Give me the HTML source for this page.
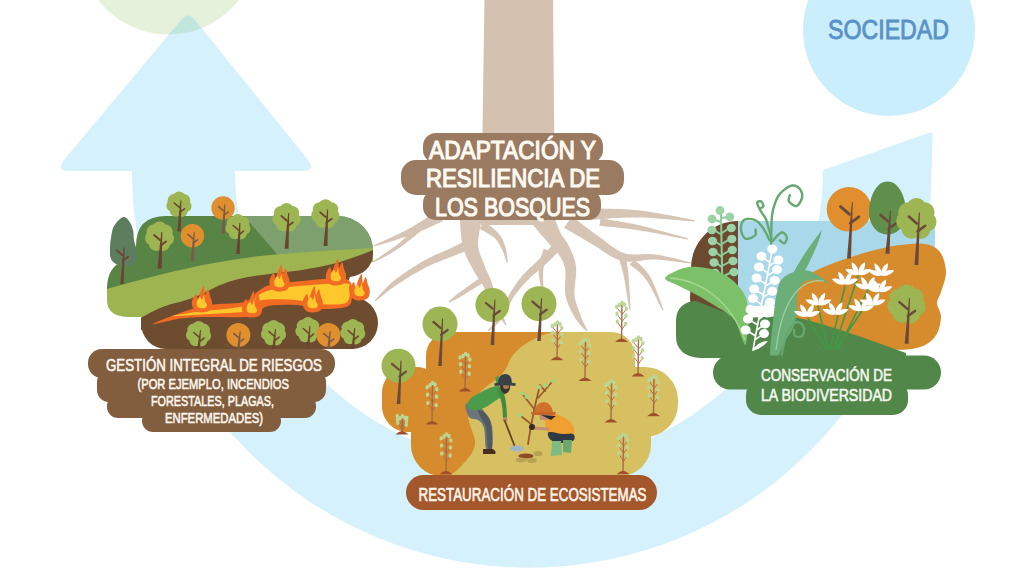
<!DOCTYPE html>
<html><head><meta charset="utf-8">
<style>
html,body{margin:0;padding:0;background:#fff;}
body{width:1024px;height:579px;overflow:hidden;}
svg{display:block;}
text{font-family:"Liberation Sans",sans-serif;font-weight:normal;}
</style></head>
<body>
<svg width="1024" height="579" viewBox="0 0 1024 579">
<defs>
<clipPath id="gc"><circle cx="168.5" cy="-54.5" r="89"/></clipPath>
<clipPath id="ringclip"><path d="M0,171 L530,171 L530,275 L1024,99 L1024,579 L0,579Z"/></clipPath>
<g id="arrowshape">
<path d="M181,20 Q188,11 195,20 L308,160 Q316,171 303,171 L69,171 Q56,171 64,160Z"/>
<path clip-path="url(#ringclip)" fill-rule="evenodd" d="M132,170.5 A397,397 0 1,0 926,170.5 A397,397 0 1,0 132,170.5Z M235,170.5 A294,294 0 1,0 823,170.5 A294,294 0 1,0 235,170.5Z"/>
<path d="M823.5,170 L932.6,131.8 L930.5,204 L927,260 L900,300 L800,300 L819.4,222 L823,190Z"/>
</g>
</defs>
<rect width="1024" height="579" fill="#fff"/>
<circle cx="168.5" cy="-54.5" r="89" fill="#e5f1da"/>
<use href="#arrowshape" fill="#d4f1fc"/>
<g clip-path="url(#gc)"><use href="#arrowshape" fill="#c1e6dd"/></g>
<circle cx="889" cy="30" r="86" fill="#caeefb"/>
<text x="828" y="39" font-size="28" fill="#5a92c8" stroke="#5a92c8" stroke-width="0.9" textLength="121" lengthAdjust="spacingAndGlyphs">SOCIEDAD</text>

<path d="M484.5,-2 L553,-2 L555,225 L481,225Z" fill="#d5c1b0"/>
<g><path d="M437.1,210.7 L435.9,211.7 L434.2,212.8 L432.3,214.1 L430.1,215.6 L427.7,217.1 L425.3,218.7 L422.8,220.3 L420.4,221.8 L418.2,223.2 L416.2,224.4 L414.4,225.5 L412.7,226.5 L411.1,227.4 L409.5,228.3 L407.9,229.1 L406.4,230 L404.7,230.9 L403,231.7 L401.1,232.7 L399.1,233.7 L396.8,234.8 L394.1,236.1 L391.3,237.4 L388.3,238.7 L385.3,240.1 L382.5,241.4 L379.8,242.6 L377.3,243.8 L375.3,244.7 L373.8,245.5 L374.2,246.5 L375.8,246.1 L378,245.4 L380.5,244.7 L383.4,243.8 L386.4,242.9 L389.5,241.9 L392.7,240.9 L395.7,240 L398.5,239.1 L400.9,238.3 L403.1,237.6 L405.1,236.9 L407,236.3 L408.8,235.7 L410.6,235.1 L412.3,234.5 L414.1,233.9 L415.9,233.2 L417.8,232.4 L419.8,231.6 L422.1,230.6 L424.6,229.5 L427.2,228.4 L429.9,227.1 L432.5,225.9 L435.1,224.7 L437.5,223.6 L439.7,222.6 L441.5,221.8 L442.9,221.3Z" fill="#d6c4b5"/><path d="M418,225.7 L416.9,226.9 L415.4,228.3 L413.5,230 L411.5,231.9 L409.3,234 L407,236.1 L404.8,238.1 L402.6,240.1 L400.6,241.9 L398.8,243.4 L397.1,244.7 L395.5,245.9 L394,247.1 L392.5,248.1 L391.1,249.2 L389.6,250.1 L388.3,251 L386.9,251.9 L385.5,252.8 L384.2,253.7 L382.9,254.7 L381.5,255.6 L380.2,256.5 L378.9,257.4 L377.6,258.3 L376.3,259.1 L375.2,259.8 L374.2,260.5 L373.4,261.1 L372.8,261.6 L373.2,262.4 L374,262.1 L374.9,261.7 L376,261.2 L377.2,260.6 L378.6,260 L380,259.3 L381.4,258.6 L382.9,257.8 L384.4,257 L385.8,256.3 L387.2,255.5 L388.6,254.7 L390,253.8 L391.5,253 L392.9,252.1 L394.5,251.1 L396.1,250.1 L397.7,249 L399.4,247.9 L401.2,246.6 L403.2,245.1 L405.4,243.5 L407.7,241.6 L410.2,239.7 L412.6,237.8 L414.9,235.9 L417.1,234.1 L419,232.5 L420.7,231.2 L422,230.3Z" fill="#d6c4b5"/><path d="M459,213.5 L459.4,215.3 L459.7,217.6 L459.9,220.6 L460.2,223.9 L460.4,227.6 L460.7,231.4 L461.1,235.2 L461.5,239 L462.2,242.7 L463,246.1 L463.7,249.2 L464.6,252.1 L465.6,254.9 L466.7,257.5 L467.9,260 L469.1,262.3 L470.3,264.5 L471.4,266.6 L472.5,268.5 L473.5,270.5 L474.6,272.5 L475.8,274.5 L477,276.3 L478.1,278 L479.2,279.6 L480.3,281.2 L481.3,282.7 L482.2,284.1 L483,285.6 L483.8,287.1 L484.4,288.8 L485,290.7 L485.6,292.8 L486.1,294.9 L486.6,297.1 L487.1,299.2 L487.5,301.2 L487.9,302.9 L488.2,304.5 L488.6,305.6 L495.4,304.4 L495.3,303.2 L495.2,301.7 L495,299.9 L494.8,297.9 L494.5,295.7 L494.2,293.4 L493.8,291 L493.4,288.6 L492.8,286.3 L492.2,284.1 L491.6,282 L490.8,280 L490,278 L489.2,276.2 L488.3,274.4 L487.5,272.6 L486.7,270.9 L485.9,269.2 L485.2,267.4 L484.5,265.5 L483.7,263.4 L482.8,261.2 L481.9,259 L481.1,256.8 L480.3,254.7 L479.6,252.5 L479,250.4 L478.5,248.3 L478.1,246.1 L477.8,243.9 L478,241.5 L478.3,238.6 L478.8,235.4 L479.3,232 L479.9,228.5 L480.5,225.2 L481.2,222 L481.8,219.1 L482.5,216.5 L483,214.5Z" fill="#d6c4b5"/><path d="M466,240.4 L465,241 L463.7,241.7 L462.2,242.4 L460.6,243.3 L458.7,244.2 L456.8,245.2 L454.7,246.2 L452.6,247.2 L450.5,248.3 L448.4,249.3 L446.3,250.3 L444.1,251.3 L441.7,252.3 L439.3,253.3 L436.8,254.3 L434.2,255.5 L431.6,256.7 L428.9,258 L426.1,259.4 L423.3,260.9 L420.5,262.6 L417.5,264.5 L414.4,266.4 L411.3,268.4 L408.1,270.5 L404.9,272.7 L401.9,274.8 L398.9,276.9 L396.1,279 L393.5,281 L391.1,283.1 L388.7,285.3 L386.4,287.6 L384.2,289.9 L382.1,292.1 L380.2,294.2 L378.4,296.2 L376.9,297.9 L375.7,299.4 L374.7,300.6 L375.3,301.4 L376.6,300.4 L378.2,299.2 L380,297.7 L382,296.1 L384.2,294.3 L386.5,292.4 L388.9,290.5 L391.4,288.6 L393.9,286.7 L396.5,285 L399.1,283.2 L402,281.4 L405,279.5 L408.1,277.5 L411.3,275.6 L414.5,273.7 L417.7,271.9 L420.8,270.2 L423.8,268.5 L426.7,267.1 L429.3,265.7 L432,264.5 L434.6,263.3 L437.1,262.3 L439.7,261.3 L442.2,260.3 L444.6,259.4 L447,258.5 L449.3,257.6 L451.6,256.7 L453.8,255.8 L456,254.9 L458.2,254.1 L460.4,253.2 L462.4,252.4 L464.3,251.7 L466.1,251 L467.6,250.4 L469,249.9 L470,249.6Z" fill="#d6c4b5"/><path d="M480.3,277.5 L479.6,278 L478.8,278.7 L477.7,279.4 L476.5,280.3 L475.2,281.2 L473.9,282.2 L472.5,283.1 L471.1,284.1 L469.8,285 L468.6,285.9 L467.4,286.8 L466.2,287.6 L465,288.5 L463.8,289.4 L462.6,290.3 L461.4,291.1 L460.2,292 L459,292.8 L457.9,293.6 L456.9,294.3 L455.9,295.2 L454.9,296 L453.9,296.8 L453,297.7 L452.1,298.5 L451.2,299.2 L450.4,299.9 L449.7,300.6 L449.2,301.1 L448.7,301.6 L449.3,302.4 L449.9,302.2 L450.6,301.9 L451.5,301.5 L452.4,301 L453.4,300.5 L454.5,300 L455.7,299.4 L456.8,298.8 L458,298.2 L459.1,297.7 L460.2,297 L461.4,296.3 L462.6,295.5 L463.8,294.8 L465.1,294 L466.3,293.2 L467.6,292.4 L468.9,291.6 L470.1,290.8 L471.4,290.1 L472.7,289.3 L474,288.4 L475.4,287.6 L476.9,286.7 L478.3,285.8 L479.6,285 L480.9,284.2 L482,283.5 L482.9,282.9 L483.7,282.5Z" fill="#d6c4b5"/><path d="M485.7,301.9 L486.5,302.7 L487.6,303.9 L488.8,305.3 L490.2,306.8 L491.7,308.5 L493.2,310.1 L494.7,311.8 L496.1,313.4 L497.3,314.9 L498.4,316.2 L499.3,317.3 L500.2,318.4 L501.1,319.5 L501.9,320.5 L502.7,321.6 L503.4,322.5 L504,323.3 L504.6,324.1 L505.1,324.7 L505.6,325.2 L506.4,324.8 L506.2,324.1 L506,323.3 L505.7,322.4 L505.3,321.4 L504.8,320.3 L504.3,319.1 L503.8,317.9 L503.1,316.6 L502.4,315.2 L501.6,313.8 L500.7,312.4 L499.5,310.7 L498.3,309 L496.9,307.1 L495.6,305.3 L494.2,303.5 L493,301.8 L491.9,300.3 L491,299.1 L490.3,298.1Z" fill="#d6c4b5"/><path d="M479.4,228.7 L480.5,229.2 L481.8,230 L483.4,230.8 L485,231.8 L486.8,232.8 L488.6,233.9 L490.4,235 L492,236.1 L493.4,237.1 L494.6,238.1 L495.6,239 L496.5,240 L497.3,241.1 L498.1,242.2 L498.8,243.3 L499.4,244.5 L500.1,245.7 L500.7,246.9 L501.3,248.1 L501.9,249.4 L502.6,250.7 L503.1,252.1 L503.7,253.6 L504.3,255.2 L504.8,256.8 L505.2,258.3 L505.7,259.7 L506.1,260.9 L506.5,262 L506.8,262.8 L507.8,262.6 L507.7,261.7 L507.7,260.6 L507.5,259.3 L507.4,257.8 L507.2,256.2 L507,254.6 L506.7,252.9 L506.4,251.2 L506.1,249.5 L505.7,248 L505.2,246.6 L504.8,245.2 L504.3,243.8 L503.8,242.4 L503.2,241 L502.6,239.6 L501.9,238.2 L501,236.8 L500.1,235.4 L499,233.9 L497.7,232.5 L496.2,231 L494.6,229.5 L492.8,228 L491.1,226.6 L489.4,225.3 L487.8,224.1 L486.5,223 L485.4,222.1 L484.6,221.3Z" fill="#d6c4b5"/><path d="M528.8,220.5 L530,221.6 L531.4,223.1 L533,225 L534.8,227.1 L536.8,229.4 L538.7,231.8 L540.7,234.2 L542.7,236.4 L544.5,238.5 L546.3,240.4 L547.8,242.3 L549.3,244 L550.6,245.5 L552,246.8 L553.2,248 L554.3,249 L555.3,250 L556.2,251 L557.1,252 L558,253.2 L558.9,254.7 L559.8,256.2 L560.7,257.6 L561.5,259.1 L562.3,260.6 L563,262 L563.7,263.6 L564.2,265.2 L564.7,266.9 L565.1,268.7 L565.4,270.6 L565.5,272.8 L565.5,275.3 L565.4,278 L565.3,280.8 L565.1,283.7 L565,286.7 L565,289.7 L565.2,292.7 L565.5,295.6 L566.2,298.3 L567,300.9 L567.9,303.5 L568.9,305.9 L569.9,308.2 L571,310.4 L572.1,312.6 L573.2,314.6 L574.3,316.5 L575.3,318.3 L576.5,320.1 L577.7,321.8 L579,323.4 L580.3,325 L581.6,326.4 L582.8,327.7 L583.9,328.8 L584.9,329.8 L585.8,330.6 L586.6,331.3 L587.4,330.7 L587.1,329.8 L586.6,328.6 L585.9,327.3 L585.2,325.9 L584.4,324.4 L583.6,322.7 L582.8,321 L582,319.3 L581.3,317.5 L580.7,315.7 L580,313.8 L579.2,311.8 L578.4,309.7 L577.6,307.6 L576.9,305.4 L576.2,303.2 L575.6,301 L575.1,298.8 L574.7,296.5 L574.5,294.4 L574.3,292.2 L574.4,289.8 L574.6,287.2 L574.9,284.5 L575.2,281.7 L575.6,278.8 L575.9,275.9 L576.1,273 L576.2,270.1 L576.1,267.3 L575.7,264.7 L575.3,262.3 L574.7,260 L574,257.9 L573.3,255.8 L572.5,253.9 L571.7,252 L570.9,250.2 L570.1,248.5 L569.2,246.8 L568.3,244.9 L567.3,243.1 L566.2,241.5 L565.2,240 L564.2,238.5 L563.2,237.2 L562.3,235.9 L561.4,234.5 L560.6,233.1 L559.7,231.6 L558.9,229.5 L558,227.1 L557,224.4 L556,221.7 L554.9,218.9 L553.9,216.1 L553,213.5 L552.2,211.1 L551.6,209.1 L551.2,207.5Z" fill="#d6c4b5"/><path d="M543.7,248.8 L543.4,249.8 L543,251.1 L542.5,252.7 L541.8,254.5 L541.1,256.5 L540.4,258.7 L539.8,260.9 L539.2,263.2 L538.8,265.5 L538.5,267.7 L538.5,270.1 L538.6,272.5 L538.9,275.1 L539.2,277.7 L539.6,280.3 L540.1,282.8 L540.5,285.1 L540.9,287.1 L541.2,288.8 L541.5,290.1 L543.5,289.9 L543.5,288.6 L543.5,286.8 L543.4,284.7 L543.2,282.4 L543.1,279.9 L543,277.4 L543,274.9 L543,272.5 L543.2,270.2 L543.5,268.3 L543.9,266.5 L544.4,264.5 L545.1,262.6 L545.9,260.6 L546.7,258.7 L547.5,256.9 L548.4,255.2 L549.1,253.7 L549.8,252.3 L550.3,251.2Z" fill="#d6c4b5"/><path d="M552.8,244.8 L551.9,245.8 L550.7,247.1 L549.3,248.6 L547.6,250.3 L545.9,252.1 L544.1,254 L542.3,255.9 L540.5,257.8 L538.8,259.5 L537.2,261.1 L535.8,262.6 L534.3,264 L532.8,265.4 L531.3,266.7 L529.8,268.1 L528.3,269.5 L526.8,271 L525.3,272.5 L523.9,274 L522.4,275.6 L521.1,277.3 L519.8,279 L518.5,280.6 L517.2,282.4 L515.9,284.1 L514.7,285.9 L513.5,287.7 L512.3,289.6 L511.1,291.6 L509.9,293.7 L508.6,295.9 L507.4,298.3 L506.2,300.7 L505.1,303.3 L503.9,305.8 L502.8,308.3 L501.6,310.7 L500.5,313 L499.4,315 L498.3,316.9 L497.3,318.7 L496.1,320.4 L494.9,322 L493.6,323.6 L492.4,325.1 L491.2,326.4 L490.1,327.7 L489.1,328.8 L488.3,329.8 L487.6,330.7 L488.4,331.3 L489.2,330.7 L490.2,330 L491.4,329.1 L492.7,328 L494.1,326.8 L495.6,325.5 L497.2,324.1 L498.7,322.5 L500.2,320.9 L501.7,319.1 L503,317.1 L504.2,314.9 L505.5,312.6 L506.7,310.2 L508,307.7 L509.2,305.2 L510.4,302.8 L511.7,300.5 L512.9,298.3 L514.1,296.3 L515.4,294.5 L516.7,292.7 L518,291 L519.4,289.4 L520.7,287.8 L522,286.2 L523.4,284.7 L524.8,283.3 L526.2,281.8 L527.6,280.4 L529,279 L530.4,277.6 L531.8,276.3 L533.3,275 L534.8,273.7 L536.3,272.5 L537.9,271.1 L539.5,269.8 L541.1,268.4 L542.8,266.9 L544.5,265.3 L546.3,263.6 L548.2,261.8 L550.1,259.9 L552,258.1 L553.8,256.4 L555.4,254.7 L556.9,253.3 L558.2,252.1 L559.2,251.2Z" fill="#d6c4b5"/><path d="M590.1,220 L593,219.7 L596.8,219.4 L601.3,219 L606.3,218.7 L611.6,218.3 L617.3,218 L623,217.7 L628.8,217.6 L634.4,217.5 L639.8,217.5 L645.3,217.6 L651.2,217.9 L657.5,218.4 L664,218.9 L670.3,219.5 L676.5,220.1 L682.2,220.6 L687.3,221 L691.6,221.3 L694.9,221.5 L695.1,220.5 L691.8,219.8 L687.6,218.8 L682.6,217.8 L677,216.7 L670.9,215.5 L664.6,214.4 L658.2,213.2 L651.9,212.2 L645.8,211.3 L640.2,210.5 L634.7,210 L629,209.6 L623.1,209.2 L617.2,209 L611.5,208.8 L606.1,208.7 L601,208.5 L596.6,208.4 L592.9,208.2 L589.9,208Z" fill="#d6c4b5"/><path d="M599.4,226 L601.8,226.1 L604.8,226.4 L608.3,226.7 L612.3,227.1 L616.6,227.5 L621.1,228 L625.7,228.6 L630.4,229.1 L635,229.8 L639.5,230.5 L644.2,231.2 L649.4,232.1 L654.9,233.1 L660.5,234.2 L666.2,235.3 L671.6,236.4 L676.6,237.4 L681.1,238.3 L684.9,239 L687.9,239.5 L688.1,238.5 L685.3,237.6 L681.6,236.5 L677.1,235.3 L672.2,233.9 L666.8,232.4 L661.3,230.9 L655.7,229.4 L650.3,228 L645.2,226.7 L640.5,225.5 L636,224.6 L631.3,223.6 L626.6,222.7 L622,221.9 L617.4,221.1 L613.2,220.4 L609.3,219.7 L605.8,219.1 L602.9,218.5 L600.6,218Z" fill="#d6c4b5"/><path d="M564.1,227.8 L565.8,228.7 L568,229.9 L570.5,231.4 L573.3,233.1 L576.4,234.9 L579.6,236.8 L582.9,238.8 L586.1,240.7 L589.3,242.5 L592.3,244.2 L595,245.9 L597.7,247.6 L600.4,249.5 L603.3,251.4 L606.1,253.3 L609.1,255.2 L612.1,256.9 L615.3,258.5 L618.5,259.8 L621.9,260.9 L625.4,261.5 L628.8,261.7 L632.2,261.6 L635.5,261.3 L638.8,260.9 L642,260.5 L645.2,260 L648.4,259.7 L651.6,259.5 L654.8,259.5 L658.3,259.7 L662.2,260 L666.3,260.4 L670.5,260.9 L674.7,261.5 L678.8,262 L682.5,262.5 L685.9,263 L688.7,263.3 L690.9,263.5 L691.1,262.5 L689,261.9 L686.2,261.2 L682.9,260.4 L679.2,259.5 L675.3,258.5 L671.1,257.6 L666.9,256.7 L662.8,255.8 L658.9,255.1 L655.2,254.5 L651.7,254.2 L648.2,254.1 L644.8,254.2 L641.4,254.3 L638.2,254.4 L635.1,254.5 L632.1,254.5 L629.3,254.3 L626.6,253.9 L624.1,253.1 L621.5,252.2 L619,250.9 L616.4,249.4 L613.8,247.8 L611.2,245.9 L608.6,243.9 L606,241.9 L603.3,239.8 L600.5,237.8 L597.7,235.8 L595,233.8 L592.1,231.7 L589.1,229.4 L586.1,227.2 L583.1,225 L580.3,222.8 L577.7,220.8 L575.4,219 L573.4,217.4 L571.9,216.2Z" fill="#d6c4b5"/><path d="M618.1,256.9 L618.5,257.9 L618.9,259.2 L619.5,260.6 L620,262.3 L620.6,264 L621.2,266 L621.8,268.1 L622.4,270.4 L623,272.8 L623.5,275.4 L624.1,278.3 L624.8,281.8 L625.4,285.6 L626.1,289.7 L626.8,293.8 L627.4,297.9 L628,301.7 L628.6,305.1 L629.1,307.9 L629.5,310.1 L630.5,309.9 L630.5,307.8 L630.4,304.9 L630.2,301.5 L630,297.6 L629.7,293.5 L629.5,289.3 L629.2,285.2 L628.9,281.3 L628.7,277.7 L628.5,274.6 L628.2,271.9 L627.9,269.4 L627.6,266.9 L627.2,264.7 L626.9,262.6 L626.6,260.7 L626.4,259 L626.1,257.5 L626,256.2 L625.9,255.1Z" fill="#d6c4b5"/><path d="M629.6,264.6 L630.7,265.4 L632.1,266.5 L633.6,267.6 L635.3,268.8 L637.1,270.2 L638.9,271.8 L640.8,273.5 L642.6,275.3 L644.3,277.2 L645.9,279.4 L647.6,281.8 L649.4,284.8 L651.3,288.3 L653.2,291.9 L655.1,295.6 L656.9,299.3 L658.6,302.7 L660.1,305.7 L661.5,308.3 L662.5,310.2 L663.5,309.8 L662.8,307.7 L661.8,305 L660.6,301.8 L659.3,298.2 L657.9,294.4 L656.3,290.5 L654.8,286.6 L653.2,282.9 L651.6,279.6 L650.1,276.6 L648.4,274.1 L646.6,271.8 L644.8,269.6 L642.9,267.6 L641.1,265.8 L639.3,264.1 L637.7,262.7 L636.3,261.4 L635.2,260.3 L634.4,259.4Z" fill="#d6c4b5"/></g>
<g fill="#9a7b61">
<rect x="423" y="133" width="180" height="30" rx="13"/>
<rect x="401" y="160" width="223" height="35" rx="15"/>
<rect x="423" y="190" width="178" height="30" rx="13"/>
</g>
<g fill="#fffaf2" stroke="#fffaf2" stroke-width="1.2">
<text x="429" y="159" font-size="26" textLength="167" lengthAdjust="spacingAndGlyphs">ADAPTACIÓN Y</text>
<text x="426" y="187" font-size="26" textLength="174" lengthAdjust="spacingAndGlyphs">RESILIENCIA DE</text>
<text x="435" y="215.5" font-size="26" textLength="155" lengthAdjust="spacingAndGlyphs">LOS BOSQUES</text>
</g>
<g><path d="M166,216 L338,216 A35,35 0 0 1 373,251 L373,258 L107,300 L107,287 Q108,266 124,261 L136,258 L136,246 Q136,216 166,216Z" fill="#588545"/><path d="M244,216 L338,216 A35,35 0 0 1 373,251 L373,262 L277,254Z" fill="#7ea06e"/><path d="M166,297 L352,297 A26,26 0 0 1 378,323 A26,26 0 0 1 352,349 L166,349 A25,26 0 0 1 141,323 A25,26 0 0 1 166,297Z" fill="#6d4c30"/><path d="M107,289 C150,277 200,263 260,256 C300,252 340,250 373,248 L373,262 L142,317 L127,317 Q107,316 107,300Z" fill="#9db451"/><path d="M141,318 C152,311 165,305 180,302 C195,298 208,291 219,285.5 C232,280 245,277 258,275.6 C275,273 285,272 297,270.7 C315,268 330,265 340,262 C352,258 364,254 373,250 L373,253 C373,266 364,275 350,277 L340,300 L141,330Z" fill="#6d4c30"/><path d="M152,324.5 L154,323.3 L159.1,321 L166,318.2 L173.4,315.4 L180,313 L185.6,311.1 L191.2,309.3 L196.9,307.7 L202.8,306.2 L209,305 L216,304.2 L223.8,303.8 L231.6,303.5 L238.7,303 L244.5,302 L248.6,300.3 L251.5,298 L253.6,295.6 L255.6,293.2 L258,291.2 L260.6,289.5 L263,288 L265.4,286.6 L268.3,285.4 L271.8,284.4 L276,283.6 L280.8,283 L285.9,282.5 L291.4,282 L297,281.5 L303.1,280.9 L309.8,280.2 L316.5,279.5 L322.9,279 L328.4,278.6 L333,278.4 L337,278.2 L340.5,278.2 L343.4,278.4 L346,279 L348,279.9 L349.5,281.1 L350.6,282.5 L351.4,284.2 L352,286 L352.5,288.1 L352.7,290.6 L352.7,293.2 L352.5,295.7 L352,298 L351.6,300.1 L351.2,302.2 L350.4,304 L348.8,305.7 L346,307 L341.5,307.9 L335.5,308.6 L328.8,309 L322.3,309.1 L316.7,309 L312.3,308.5 L308.6,307.6 L305.1,306.5 L301.4,305.6 L297,305 L291.5,304.8 L285.2,304.8 L278.7,304.9 L272.7,305.3 L268,306 L264.8,307.1 L262.8,308.5 L261.3,310.1 L259.9,311.7 L258,313 L255.9,314.1 L253.9,315 L251.7,315.8 L248.7,316.5 L244.5,317 L238.7,317.2 L231.6,317.2 L223.8,317.1 L216,317 L209,317 L202.8,317.1 L196.9,317.3 L191.2,317.5 L185.6,317.9 L180,318.5 L173.4,319.7 L166,321.4 L159.1,323.1 L154,324.3Z" fill="#f26b22"/><path d="M172,316 L173.8,315.5 L178.4,314.7 L184.9,313.7 L192.4,312.6 L200,311.5 L208.3,310.6 L217.9,309.7 L227.9,308.8 L237.1,307.6 L244.5,306 L249.6,303.8 L253,301 L255.6,298.1 L258.3,295.3 L262,293 L266.3,291.3 L270.8,290 L275.7,288.9 L281.7,287.9 L289,287 L299,286 L311.4,285 L324.3,284.1 L335.8,283.6 L344,283.4 L348.3,283.7 L349.8,284.3 L349.8,285.3 L349.1,286.5 L349,288 L349.4,289.9 L349.7,292.2 L349.7,294.7 L349.5,297.1 L349,299 L348.3,300.5 L347.6,301.7 L346.5,302.6 L344.7,303.4 L342,304 L338.1,304.4 L333,304.6 L327.4,304.5 L321.8,304.3 L316.7,304 L312.3,303.4 L308.3,302.5 L304.3,301.5 L300,300.6 L295,300 L288.7,299.6 L281.4,299.3 L273.9,299.2 L267.2,299.4 L262,300 L258.8,301.1 L257.1,302.7 L256.1,304.6 L255.3,306.4 L254,307.8 L252.8,308.9 L252,309.7 L250.9,310.5 L248.7,311.1 L244.5,311.8 L237.6,312.4 L228.4,313 L218.3,313.6 L208.4,314.1 L200,314.5 L192.4,315 L184.9,315.5 L178.4,315.9 L173.8,316.1Z" fill="#fdc82b"/><path d="M193,308 L192.4,306.5 L191.9,304.7 L191.8,302.8 L192,301 L192.7,299 L193.8,296.8 L195,294.9 L196,294 L196.6,294.7 L197.1,296.6 L197.5,298.4 L198,299 L198.7,297.8 L199.4,295.6 L200.2,293.1 L201,291 L201.8,289.2 L202.6,287.4 L203.4,286.2 L204,286 L204.3,287.6 L204.5,290.6 L204.7,293.5 L205,295 L205.6,294.2 L206.4,292.1 L207.3,289.9 L208,289 L208.6,289.9 L209.1,291.8 L209.5,294 L210,296 L210.6,297.5 L211.2,299 L211.7,300.5 L212,302 L212.1,303.8 L211.9,305.7 L211.6,307.5 L211,309 L210.1,310.1 L208.9,310.9 L207.6,311.6 L206,312 L204.1,312.3 L202,312.4 L199.9,312.4 L198,312 L196.4,311.4 L195.1,310.4 L193.9,309.3Z" fill="#f26b22"/><path d="M197,306 L196.7,304.9 L196.6,303.6 L196.7,302.2 L197,301 L197.6,299.8 L198.4,298.5 L199.2,297.5 L200,297 L200.6,297.4 L201.1,298.6 L201.5,299.6 L202,300 L202.5,299.1 L203.1,297.3 L203.6,295.7 L204,295 L204.3,295.8 L204.5,297.4 L204.7,299.4 L205,301 L205.5,302.2 L206.2,303.2 L206.8,304.1 L207,305 L206.9,305.9 L206.4,306.8 L205.8,307.5 L205,308 L203.9,308.3 L202.6,308.3 L201.2,308.2 L200,308 L199,307.7 L198.2,307.3 L197.5,306.8Z" fill="#fdc82b"/><path d="M270.6,287 L270,285.5 L269.5,283.7 L269.4,281.8 L269.6,280 L270.3,278 L271.4,275.8 L272.6,273.9 L273.6,273 L274.2,273.7 L274.7,275.6 L275.1,277.4 L275.6,278 L276.3,276.8 L277,274.6 L277.8,272.1 L278.6,270 L279.4,268.2 L280.2,266.4 L281,265.2 L281.6,265 L281.9,266.6 L282.1,269.6 L282.3,272.5 L282.6,274 L283.2,273.2 L284,271.1 L284.9,268.9 L285.6,268 L286.2,268.9 L286.7,270.8 L287.1,273 L287.6,275 L288.2,276.5 L288.8,278 L289.3,279.5 L289.6,281 L289.7,282.8 L289.5,284.7 L289.2,286.5 L288.6,288 L287.7,289.1 L286.5,289.9 L285.2,290.6 L283.6,291 L281.7,291.3 L279.6,291.4 L277.5,291.4 L275.6,291 L274,290.4 L272.7,289.4 L271.5,288.3Z" fill="#f26b22"/><path d="M274.6,285 L274.3,283.9 L274.2,282.6 L274.3,281.2 L274.6,280 L275.2,278.8 L276,277.5 L276.9,276.5 L277.6,276 L278.2,276.4 L278.7,277.6 L279.1,278.6 L279.6,279 L280.1,278.1 L280.7,276.3 L281.2,274.7 L281.6,274 L281.9,274.8 L282.1,276.4 L282.3,278.4 L282.6,280 L283.1,281.2 L283.8,282.2 L284.4,283.1 L284.6,284 L284.5,284.9 L284,285.8 L283.4,286.5 L282.6,287 L281.5,287.3 L280.2,287.3 L278.8,287.2 L277.6,287 L276.6,286.7 L275.8,286.3 L275.1,285.8Z" fill="#fdc82b"/><path d="M243,313 L242.4,311.5 L241.9,309.7 L241.8,307.8 L242,306 L242.7,304 L243.8,301.8 L245,299.9 L246,299 L246.6,299.7 L247.1,301.6 L247.5,303.4 L248,304 L248.7,302.8 L249.4,300.6 L250.2,298.1 L251,296 L251.8,294.2 L252.6,292.4 L253.4,291.2 L254,291 L254.3,292.6 L254.5,295.6 L254.7,298.5 L255,300 L255.6,299.2 L256.4,297.1 L257.3,294.9 L258,294 L258.6,294.9 L259.1,296.8 L259.5,299 L260,301 L260.6,302.5 L261.2,304 L261.7,305.5 L262,307 L262.1,308.8 L261.9,310.7 L261.6,312.5 L261,314 L260.1,315.1 L258.9,315.9 L257.6,316.6 L256,317 L254.1,317.3 L252,317.4 L249.9,317.4 L248,317 L246.4,316.4 L245.1,315.4 L243.9,314.3Z" fill="#f26b22"/><path d="M247,311 L246.7,309.9 L246.6,308.6 L246.7,307.2 L247,306 L247.6,304.8 L248.4,303.5 L249.2,302.5 L250,302 L250.6,302.4 L251.1,303.6 L251.5,304.6 L252,305 L252.5,304.1 L253.1,302.3 L253.6,300.7 L254,300 L254.3,300.8 L254.5,302.4 L254.7,304.4 L255,306 L255.5,307.2 L256.2,308.2 L256.8,309.1 L257,310 L256.9,310.9 L256.4,311.8 L255.8,312.5 L255,313 L253.9,313.3 L252.6,313.3 L251.2,313.2 L250,313 L249,312.7 L248.2,312.3 L247.5,311.8Z" fill="#fdc82b"/><path d="M327,281 L326.4,279.5 L325.9,277.7 L325.8,275.8 L326,274 L326.7,272 L327.8,269.8 L329,267.9 L330,267 L330.6,267.7 L331.1,269.6 L331.5,271.4 L332,272 L332.7,270.8 L333.4,268.6 L334.2,266.1 L335,264 L335.8,262.2 L336.6,260.4 L337.4,259.2 L338,259 L338.3,260.6 L338.5,263.6 L338.7,266.5 L339,268 L339.6,267.2 L340.4,265.1 L341.3,262.9 L342,262 L342.6,262.9 L343.1,264.8 L343.5,267 L344,269 L344.6,270.5 L345.2,272 L345.7,273.5 L346,275 L346.1,276.8 L345.9,278.7 L345.6,280.5 L345,282 L344.1,283.1 L342.9,283.9 L341.6,284.6 L340,285 L338.1,285.3 L336,285.4 L333.9,285.4 L332,285 L330.4,284.4 L329.1,283.4 L327.9,282.3Z" fill="#f26b22"/><path d="M331,279 L330.7,277.9 L330.6,276.6 L330.7,275.2 L331,274 L331.6,272.8 L332.4,271.5 L333.2,270.5 L334,270 L334.6,270.4 L335.1,271.6 L335.5,272.6 L336,273 L336.5,272.1 L337.1,270.3 L337.6,268.7 L338,268 L338.3,268.8 L338.5,270.4 L338.7,272.4 L339,274 L339.5,275.2 L340.2,276.2 L340.8,277.1 L341,278 L340.9,278.9 L340.4,279.8 L339.8,280.5 L339,281 L337.9,281.3 L336.6,281.3 L335.2,281.2 L334,281 L333,280.7 L332.2,280.3 L331.5,279.8Z" fill="#fdc82b"/><path d="M303.8,308 L303.2,306.5 L302.7,304.7 L302.6,302.8 L302.8,301 L303.5,299 L304.6,296.8 L305.8,294.9 L306.8,294 L307.4,294.7 L307.9,296.6 L308.3,298.4 L308.8,299 L309.5,297.8 L310.2,295.6 L311,293.1 L311.8,291 L312.6,289.2 L313.4,287.4 L314.2,286.2 L314.8,286 L315.1,287.6 L315.3,290.6 L315.5,293.5 L315.8,295 L316.4,294.2 L317.2,292.1 L318.1,289.9 L318.8,289 L319.4,289.9 L319.9,291.8 L320.3,294 L320.8,296 L321.4,297.5 L322,299 L322.5,300.5 L322.8,302 L322.9,303.8 L322.7,305.7 L322.4,307.5 L321.8,309 L320.9,310.1 L319.7,310.9 L318.4,311.6 L316.8,312 L314.9,312.3 L312.8,312.4 L310.7,312.4 L308.8,312 L307.2,311.4 L305.9,310.4 L304.7,309.3Z" fill="#f26b22"/><path d="M307.8,306 L307.5,304.9 L307.4,303.6 L307.5,302.2 L307.8,301 L308.4,299.8 L309.2,298.5 L310.1,297.5 L310.8,297 L311.4,297.4 L311.9,298.6 L312.3,299.6 L312.8,300 L313.3,299.1 L313.9,297.3 L314.4,295.7 L314.8,295 L315.1,295.8 L315.3,297.4 L315.5,299.4 L315.8,301 L316.3,302.2 L317,303.2 L317.6,304.1 L317.8,305 L317.7,305.9 L317.2,306.8 L316.6,307.5 L315.8,308 L314.7,308.3 L313.4,308.3 L312,308.2 L310.8,308 L309.8,307.7 L309,307.3 L308.3,306.8Z" fill="#fdc82b"/><path d="M350.7,296 L350.1,294.5 L349.6,292.7 L349.5,290.8 L349.7,289 L350.4,287 L351.5,284.8 L352.7,282.9 L353.7,282 L354.3,282.7 L354.8,284.6 L355.2,286.4 L355.7,287 L356.4,285.8 L357.1,283.6 L357.9,281.1 L358.7,279 L359.5,277.2 L360.3,275.4 L361.1,274.2 L361.7,274 L362,275.6 L362.2,278.6 L362.4,281.5 L362.7,283 L363.3,282.2 L364.1,280.1 L365,277.9 L365.7,277 L366.3,277.9 L366.8,279.8 L367.2,282 L367.7,284 L368.3,285.5 L368.9,287 L369.4,288.5 L369.7,290 L369.8,291.8 L369.6,293.7 L369.3,295.5 L368.7,297 L367.8,298.1 L366.6,298.9 L365.3,299.6 L363.7,300 L361.8,300.3 L359.7,300.4 L357.6,300.4 L355.7,300 L354.1,299.4 L352.8,298.4 L351.6,297.3Z" fill="#f26b22"/><path d="M354.7,294 L354.4,292.9 L354.3,291.6 L354.4,290.2 L354.7,289 L355.3,287.8 L356.1,286.5 L356.9,285.5 L357.7,285 L358.3,285.4 L358.8,286.6 L359.2,287.6 L359.7,288 L360.2,287.1 L360.8,285.3 L361.3,283.7 L361.7,283 L362,283.8 L362.2,285.4 L362.4,287.4 L362.7,289 L363.2,290.2 L363.9,291.2 L364.5,292.1 L364.7,293 L364.6,293.9 L364.1,294.8 L363.5,295.5 L362.7,296 L361.6,296.3 L360.3,296.3 L358.9,296.2 L357.7,296 L356.7,295.7 L355.9,295.3 L355.2,294.8Z" fill="#fdc82b"/><path d="M123,217 L124.2,216.9 L125.3,217.2 L126.3,217.9 L127.3,218.8 L128.2,219.9 L129,221 L129.8,222.2 L130.6,223.6 L131.3,225.1 L132,226.7 L132.5,228.4 L133,230 L133.3,231.6 L133.5,233.2 L133.6,234.8 L133.6,236.5 L133.8,238.2 L134,240 L134.4,241.9 L135,243.9 L135.6,246 L136.2,248.1 L136.7,250.1 L137,252 L137.1,253.9 L137.2,255.7 L137.2,257.5 L137,259.2 L136.6,260.7 L136,262 L135.1,263.1 L133.9,264 L132.6,264.7 L131.1,265.3 L129.5,265.7 L128,266 L126.4,266.2 L124.7,266.2 L122.9,266.1 L121.2,265.9 L119.5,265.5 L118,265 L116.6,264.3 L115.2,263.5 L113.9,262.6 L112.8,261.5 L111.8,260.3 L111,259 L110.5,257.6 L110.1,256 L110,254.3 L110,252.6 L110,250.8 L110,249 L110,247.2 L110.1,245.4 L110.2,243.6 L110.4,241.8 L110.7,239.9 L111,238 L111.3,236 L111.6,234 L112,231.9 L112.5,229.8 L113.1,227.8 L114,226 L115.2,224.2 L116.7,222.3 L118.3,220.5 L120,218.9 L121.6,217.7Z" fill="#5e7c5e"/><path d="M120.3,284 L123.7,284 L124.6,247.5 L123.6,247.5 Z" fill="#6b4430"/><path d="M122.3,255.1 L116.7,250.3 M122.8,260.7 L128.2,256.8" stroke="#6b4430" stroke-width="1.8" stroke-linecap="round" fill="none"/><g fill="#9db552"><circle cx="179" cy="197.6" r="6.2"/><circle cx="184.1" cy="200.3" r="6.2"/><circle cx="185.3" cy="206.2" r="6.2"/><circle cx="181.6" cy="210.8" r="6.2"/><circle cx="175.9" cy="210.6" r="6.2"/><circle cx="172.6" cy="205.7" r="6.2"/><circle cx="173.9" cy="200.3" r="6.2"/><circle cx="179" cy="204.5" r="7.8"/></g><path d="M177.2,231.5 L180.8,231.5 L181.4,200.5 L180.4,200.5 Z" fill="#6b4430"/><path d="M179.2,207.2 L174.2,203 M179.8,212.2 L184.5,208.8" stroke="#6b4430" stroke-width="1.6" stroke-linecap="round" fill="none"/><circle cx="223" cy="208" r="11.7" fill="#e08f2e"/><path d="M221.3,234 L224.7,234 L225.3,204.3 L224.3,204.3 Z" fill="#7a5a48"/><path d="M223.2,210.6 L218.6,206.6 M223.7,215.3 L228.1,212" stroke="#7a5a48" stroke-width="1.5" stroke-linecap="round" fill="none"/><g fill="#9db552"><circle cx="159.6" cy="228.7" r="7.2"/><circle cx="165.5" cy="231.8" r="7.2"/><circle cx="166.9" cy="238.6" r="7.2"/><circle cx="162.7" cy="244" r="7.2"/><circle cx="156.1" cy="243.7" r="7.2"/><circle cx="152.2" cy="238.1" r="7.2"/><circle cx="153.7" cy="231.8" r="7.2"/><circle cx="159.6" cy="236.7" r="9"/></g><path d="M157.5,268.6 L161.7,268.6 L162.3,232.1 L161.3,232.1 Z" fill="#6b4430"/><path d="M159.9,239.9 L154.1,235 M160.5,245.7 L166,241.6" stroke="#6b4430" stroke-width="1.9" stroke-linecap="round" fill="none"/><circle cx="192.4" cy="235.8" r="11.7" fill="#e08f2e"/><path d="M190.7,260.8 L194.1,260.8 L194.7,232.1 L193.7,232.1 Z" fill="#7a5a48"/><path d="M192.6,238.4 L188,234.4 M193.1,243.1 L197.5,239.8" stroke="#7a5a48" stroke-width="1.5" stroke-linecap="round" fill="none"/><g fill="#9db552"><circle cx="238" cy="220.1" r="6.2"/><circle cx="243.1" cy="222.8" r="6.2"/><circle cx="244.3" cy="228.7" r="6.2"/><circle cx="240.6" cy="233.3" r="6.2"/><circle cx="234.9" cy="233.1" r="6.2"/><circle cx="231.6" cy="228.2" r="6.2"/><circle cx="232.9" cy="222.8" r="6.2"/><circle cx="238" cy="227" r="7.8"/></g><path d="M236.2,254 L239.8,254 L240.4,223 L239.4,223 Z" fill="#6b4430"/><path d="M238.2,229.8 L233.2,225.5 M238.8,234.8 L243.5,231.2" stroke="#6b4430" stroke-width="1.6" stroke-linecap="round" fill="none"/><g fill="#9db552"><circle cx="286.6" cy="209.9" r="7"/><circle cx="292.3" cy="212.9" r="7"/><circle cx="293.7" cy="219.5" r="7"/><circle cx="289.6" cy="224.6" r="7"/><circle cx="283.2" cy="224.4" r="7"/><circle cx="279.4" cy="218.9" r="7"/><circle cx="280.9" cy="212.9" r="7"/><circle cx="286.6" cy="217.6" r="8.7"/></g><path d="M284.6,248.7 L288.6,248.7 L289.2,213.1 L288.2,213.1 Z" fill="#6b4430"/><path d="M286.9,220.7 L281.3,215.9 M287.4,226.3 L292.8,222.4" stroke="#6b4430" stroke-width="1.8" stroke-linecap="round" fill="none"/><g fill="#9db552"><circle cx="325.5" cy="206.3" r="7"/><circle cx="331.2" cy="209.3" r="7"/><circle cx="332.6" cy="215.9" r="7"/><circle cx="328.5" cy="221" r="7"/><circle cx="322.1" cy="220.8" r="7"/><circle cx="318.3" cy="215.3" r="7"/><circle cx="319.8" cy="209.3" r="7"/><circle cx="325.5" cy="214" r="8.7"/></g><path d="M323.5,246 L327.5,246 L328.1,209.5 L327.1,209.5 Z" fill="#6b4430"/><path d="M325.8,217.1 L320.2,212.3 M326.3,222.7 L331.7,218.8" stroke="#6b4430" stroke-width="1.8" stroke-linecap="round" fill="none"/><g fill="#9db552"><circle cx="198.6" cy="327.1" r="6.2"/><circle cx="203.7" cy="329.8" r="6.2"/><circle cx="204.9" cy="335.7" r="6.2"/><circle cx="201.2" cy="340.3" r="6.2"/><circle cx="195.5" cy="340.1" r="6.2"/><circle cx="192.2" cy="335.2" r="6.2"/><circle cx="193.5" cy="329.8" r="6.2"/><circle cx="198.6" cy="334" r="7.8"/></g><path d="M197.2,349 L200,349 L201,330 L200,330 Z" fill="#6b4430"/><path d="M198.8,336.8 L193.8,332.5 M199.3,341.8 L204.1,338.2" stroke="#6b4430" stroke-width="1.6" stroke-linecap="round" fill="none"/><circle cx="238.4" cy="335" r="12" fill="#e08f2e"/><path d="M237,349 L239.8,349 L240.7,331.2 L239.7,331.2 Z" fill="#7a5a48"/><path d="M238.6,337.6 L233.8,333.6 M239.1,342.4 L243.7,339.1" stroke="#7a5a48" stroke-width="1.6" stroke-linecap="round" fill="none"/><g fill="#9db552"><circle cx="273.6" cy="326.1" r="6.2"/><circle cx="278.7" cy="328.8" r="6.2"/><circle cx="279.9" cy="334.7" r="6.2"/><circle cx="276.2" cy="339.3" r="6.2"/><circle cx="270.5" cy="339.1" r="6.2"/><circle cx="267.2" cy="334.2" r="6.2"/><circle cx="268.5" cy="328.8" r="6.2"/><circle cx="273.6" cy="333" r="7.8"/></g><path d="M272.2,349 L275,349 L276,329 L275,329 Z" fill="#6b4430"/><path d="M273.9,335.8 L268.9,331.5 M274.4,340.8 L279.1,337.2" stroke="#6b4430" stroke-width="1.6" stroke-linecap="round" fill="none"/><g fill="#9db552"><circle cx="308" cy="323.1" r="6.2"/><circle cx="313.1" cy="325.8" r="6.2"/><circle cx="314.3" cy="331.7" r="6.2"/><circle cx="310.6" cy="336.3" r="6.2"/><circle cx="304.9" cy="336.1" r="6.2"/><circle cx="301.6" cy="331.2" r="6.2"/><circle cx="302.9" cy="325.8" r="6.2"/><circle cx="308" cy="330" r="7.8"/></g><path d="M306.6,349 L309.4,349 L310.4,326 L309.4,326 Z" fill="#6b4430"/><path d="M308.2,332.8 L303.2,328.5 M308.8,337.8 L313.5,334.2" stroke="#6b4430" stroke-width="1.6" stroke-linecap="round" fill="none"/><circle cx="328.4" cy="335" r="12" fill="#e08f2e"/><path d="M327,349 L329.8,349 L330.7,331.2 L329.7,331.2 Z" fill="#7a5a48"/><path d="M328.6,337.6 L323.8,333.6 M329.1,342.4 L333.7,339.1" stroke="#7a5a48" stroke-width="1.6" stroke-linecap="round" fill="none"/><g fill="#9db552"><circle cx="352.8" cy="325.1" r="6.2"/><circle cx="357.9" cy="327.8" r="6.2"/><circle cx="359.1" cy="333.7" r="6.2"/><circle cx="355.4" cy="338.3" r="6.2"/><circle cx="349.7" cy="338.1" r="6.2"/><circle cx="346.4" cy="333.2" r="6.2"/><circle cx="347.7" cy="327.8" r="6.2"/><circle cx="352.8" cy="332" r="7.8"/></g><path d="M351.4,349 L354.2,349 L355.2,328 L354.2,328 Z" fill="#6b4430"/><path d="M353.1,334.8 L348.1,330.5 M353.6,339.8 L358.3,336.2" stroke="#6b4430" stroke-width="1.6" stroke-linecap="round" fill="none"/><g fill="#825e3e">
<rect x="88" y="349" width="247" height="29" rx="14"/>
<rect x="97" y="370" width="229" height="32" rx="12"/>
<rect x="107" y="395" width="209" height="23" rx="11"/>
<rect x="142" y="410" width="139" height="22" rx="11"/>
</g>
<g fill="#fdf6ee" stroke="#fdf6ee" stroke-width="0.6">
<text x="106" y="371" font-size="17" textLength="216" lengthAdjust="spacingAndGlyphs">GESTIÓN INTEGRAL DE RIESGOS</text>
<text x="137.5" y="389" font-size="15" textLength="151.5" lengthAdjust="spacingAndGlyphs">(POR EJEMPLO, INCENDIOS</text>
<text x="151" y="406" font-size="15" textLength="123" lengthAdjust="spacingAndGlyphs">FORESTALES, PLAGAS,</text>
<text x="165" y="423" font-size="15" textLength="98" lengthAdjust="spacingAndGlyphs">ENFERMEDADES)</text>
</g></g>
<defs><clipPath id="cloudc"><rect x="426" y="332" width="209" height="144" rx="24"/><rect x="382" y="367" width="60" height="65" rx="26"/><rect x="411" y="405" width="70" height="71" rx="31"/><rect x="600" y="367" width="78" height="70" rx="33"/><rect x="581" y="405" width="70" height="71" rx="31"/></clipPath></defs>
<g><g clip-path="url(#cloudc)"><rect x="370" y="320" width="320" height="170" fill="#d6c062"/><path d="M560,320 L370,320 L370,490 L446,490 L448,477 C455,472 460,468 463,464 C470,456 476,450 475,440 C472,428 466,418 468,408 C472,398 482,390 494,381 C502,375 506,370 509,362 C514,350 530,338 553,332Z" fill="#d68c2d"/></g><circle cx="398.5" cy="365.8" r="17" fill="#9db552"/><path d="M396.7,404 L400.3,404 L401.6,360.4 L400.6,360.4 Z" fill="#6b4a3a"/><path d="M398.8,369.5 L392,363.8 M399.5,376.3 L406,371.6" stroke="#6b4a3a" stroke-width="2.2" stroke-linecap="round" fill="none"/><circle cx="440" cy="324" r="17.5" fill="#9db552"/><path d="M438.2,366 L441.8,366 L443.1,318.4 L442.1,318.4 Z" fill="#6b4a3a"/><path d="M440.4,327.9 L433.4,321.9 M441.1,334.9 L447.7,329.9" stroke="#6b4a3a" stroke-width="2.3" stroke-linecap="round" fill="none"/><circle cx="492.4" cy="305" r="17" fill="#9db552"/><path d="M490.6,345 L494.2,345 L495.4,299.6 L494.4,299.6 Z" fill="#6b4a3a"/><path d="M492.7,308.7 L485.9,303 M493.4,315.5 L499.9,310.8" stroke="#6b4a3a" stroke-width="2.2" stroke-linecap="round" fill="none"/><circle cx="539" cy="303.7" r="17.5" fill="#9db552"/><path d="M537.2,341 L540.8,341 L542.1,298.1 L541.1,298.1 Z" fill="#6b4a3a"/><path d="M539.4,307.6 L532.4,301.6 M540,314.6 L546.7,309.6" stroke="#6b4a3a" stroke-width="2.3" stroke-linecap="round" fill="none"/><path d="M557,358.7 L557.5,324" stroke="#a86a48" stroke-width="1.4"/><path d="M557,332.5 L552.2,326.5 M557,334.5 L561.8,328.5" stroke="#a86a48" stroke-width="0.9" fill="none"/><path d="M557,339.3 L552.5,333.3 M557,341.3 L561.5,335.3" stroke="#a86a48" stroke-width="0.9" fill="none"/><path d="M557,346.9 L552.8,340.9 M557,348.9 L561.2,342.9" stroke="#a86a48" stroke-width="0.9" fill="none"/><ellipse cx="557.5" cy="322.5" rx="1.7" ry="2.2" fill="#bcd694"/><ellipse cx="555" cy="324.5" rx="1.7" ry="2.2" fill="#bcd694"/><ellipse cx="560" cy="324" rx="1.7" ry="2.2" fill="#bcd694"/><ellipse cx="552.2" cy="326" rx="1.7" ry="2.2" fill="#bcd694"/><ellipse cx="561.8" cy="328" rx="1.7" ry="2.2" fill="#bcd694"/><ellipse cx="552.5" cy="332.8" rx="1.7" ry="2.2" fill="#bcd694"/><ellipse cx="561.5" cy="334.8" rx="1.7" ry="2.2" fill="#bcd694"/><ellipse cx="552.8" cy="340.4" rx="1.7" ry="2.2" fill="#bcd694"/><ellipse cx="561.2" cy="342.4" rx="1.7" ry="2.2" fill="#bcd694"/><path d="M550.5,360.2 Q557,353.2 563.5,360.2 Z" fill="#a0502a"/><path d="M621.5,340.4 L622,304.5" stroke="#a86a48" stroke-width="1.4"/><path d="M621.5,313.3 L616.7,307.3 M621.5,315.3 L626.3,309.3" stroke="#a86a48" stroke-width="0.9" fill="none"/><path d="M621.5,320.3 L617,314.3 M621.5,322.3 L626,316.3" stroke="#a86a48" stroke-width="0.9" fill="none"/><path d="M621.5,328.1 L617.3,322.1 M621.5,330.1 L625.7,324.1" stroke="#a86a48" stroke-width="0.9" fill="none"/><ellipse cx="622" cy="303" rx="1.7" ry="2.2" fill="#bcd694"/><ellipse cx="619.5" cy="305" rx="1.7" ry="2.2" fill="#bcd694"/><ellipse cx="624.5" cy="304.5" rx="1.7" ry="2.2" fill="#bcd694"/><ellipse cx="616.7" cy="306.8" rx="1.7" ry="2.2" fill="#bcd694"/><ellipse cx="626.3" cy="308.8" rx="1.7" ry="2.2" fill="#bcd694"/><ellipse cx="617" cy="313.8" rx="1.7" ry="2.2" fill="#bcd694"/><ellipse cx="626" cy="315.8" rx="1.7" ry="2.2" fill="#bcd694"/><ellipse cx="617.3" cy="321.6" rx="1.7" ry="2.2" fill="#bcd694"/><ellipse cx="625.7" cy="323.6" rx="1.7" ry="2.2" fill="#bcd694"/><path d="M615,341.9 Q621.5,334.9 628,341.9 Z" fill="#a0502a"/><path d="M465,390 L465.5,355.5" stroke="#a86a48" stroke-width="1.4"/><path d="M465,364 L460.2,358 M465,366 L469.8,360" stroke="#a86a48" stroke-width="0.9" fill="none"/><path d="M465,370.8 L460.5,364.8 M465,372.8 L469.5,366.8" stroke="#a86a48" stroke-width="0.9" fill="none"/><path d="M465,378.2 L460.8,372.2 M465,380.2 L469.2,374.2" stroke="#a86a48" stroke-width="0.9" fill="none"/><ellipse cx="465.5" cy="354" rx="1.7" ry="2.2" fill="#bcd694"/><ellipse cx="463" cy="356" rx="1.7" ry="2.2" fill="#bcd694"/><ellipse cx="468" cy="355.5" rx="1.7" ry="2.2" fill="#bcd694"/><ellipse cx="460.2" cy="357.5" rx="1.7" ry="2.2" fill="#bcd694"/><ellipse cx="469.8" cy="359.5" rx="1.7" ry="2.2" fill="#bcd694"/><ellipse cx="460.5" cy="364.2" rx="1.7" ry="2.2" fill="#bcd694"/><ellipse cx="469.5" cy="366.2" rx="1.7" ry="2.2" fill="#bcd694"/><ellipse cx="460.8" cy="371.8" rx="1.7" ry="2.2" fill="#bcd694"/><ellipse cx="469.2" cy="373.8" rx="1.7" ry="2.2" fill="#bcd694"/><path d="M458.5,391.5 Q465,384.5 471.5,391.5 Z" fill="#a0502a"/><path d="M585,379.5 L585.5,341" stroke="#a86a48" stroke-width="1.4"/><path d="M585,350.3 L580.2,344.3 M585,352.3 L589.8,346.3" stroke="#a86a48" stroke-width="0.9" fill="none"/><path d="M585,357.8 L580.5,351.8 M585,359.8 L589.5,353.8" stroke="#a86a48" stroke-width="0.9" fill="none"/><path d="M585,366.1 L580.8,360.1 M585,368.1 L589.2,362.1" stroke="#a86a48" stroke-width="0.9" fill="none"/><ellipse cx="585.5" cy="339.5" rx="1.7" ry="2.2" fill="#bcd694"/><ellipse cx="583" cy="341.5" rx="1.7" ry="2.2" fill="#bcd694"/><ellipse cx="588" cy="341" rx="1.7" ry="2.2" fill="#bcd694"/><ellipse cx="580.2" cy="343.8" rx="1.7" ry="2.2" fill="#bcd694"/><ellipse cx="589.8" cy="345.8" rx="1.7" ry="2.2" fill="#bcd694"/><ellipse cx="580.5" cy="351.3" rx="1.7" ry="2.2" fill="#bcd694"/><ellipse cx="589.5" cy="353.3" rx="1.7" ry="2.2" fill="#bcd694"/><ellipse cx="580.8" cy="359.6" rx="1.7" ry="2.2" fill="#bcd694"/><ellipse cx="589.2" cy="361.6" rx="1.7" ry="2.2" fill="#bcd694"/><path d="M578.5,381 Q585,374 591.5,381 Z" fill="#a0502a"/><path d="M638,375 L638.5,339" stroke="#a86a48" stroke-width="1.4"/><path d="M638,347.8 L633.2,341.8 M638,349.8 L642.8,343.8" stroke="#a86a48" stroke-width="0.9" fill="none"/><path d="M638,354.8 L633.5,348.8 M638,356.8 L642.5,350.8" stroke="#a86a48" stroke-width="0.9" fill="none"/><path d="M638,362.6 L633.8,356.6 M638,364.6 L642.2,358.6" stroke="#a86a48" stroke-width="0.9" fill="none"/><ellipse cx="638.5" cy="337.5" rx="1.7" ry="2.2" fill="#bcd694"/><ellipse cx="636" cy="339.5" rx="1.7" ry="2.2" fill="#bcd694"/><ellipse cx="641" cy="339" rx="1.7" ry="2.2" fill="#bcd694"/><ellipse cx="633.2" cy="341.3" rx="1.7" ry="2.2" fill="#bcd694"/><ellipse cx="642.8" cy="343.3" rx="1.7" ry="2.2" fill="#bcd694"/><ellipse cx="633.5" cy="348.3" rx="1.7" ry="2.2" fill="#bcd694"/><ellipse cx="642.5" cy="350.3" rx="1.7" ry="2.2" fill="#bcd694"/><ellipse cx="633.8" cy="356.1" rx="1.7" ry="2.2" fill="#bcd694"/><ellipse cx="642.2" cy="358.1" rx="1.7" ry="2.2" fill="#bcd694"/><path d="M631.5,376.5 Q638,369.5 644.5,376.5 Z" fill="#a0502a"/><path d="M432,423 L432.5,384.5" stroke="#a86a48" stroke-width="1.4"/><path d="M432,393.8 L427.2,387.8 M432,395.8 L436.8,389.8" stroke="#a86a48" stroke-width="0.9" fill="none"/><path d="M432,401.3 L427.5,395.3 M432,403.3 L436.5,397.3" stroke="#a86a48" stroke-width="0.9" fill="none"/><path d="M432,409.6 L427.8,403.6 M432,411.6 L436.2,405.6" stroke="#a86a48" stroke-width="0.9" fill="none"/><ellipse cx="432.5" cy="383" rx="1.7" ry="2.2" fill="#bcd694"/><ellipse cx="430" cy="385" rx="1.7" ry="2.2" fill="#bcd694"/><ellipse cx="435" cy="384.5" rx="1.7" ry="2.2" fill="#bcd694"/><ellipse cx="427.2" cy="387.3" rx="1.7" ry="2.2" fill="#bcd694"/><ellipse cx="436.8" cy="389.3" rx="1.7" ry="2.2" fill="#bcd694"/><ellipse cx="427.5" cy="394.8" rx="1.7" ry="2.2" fill="#bcd694"/><ellipse cx="436.5" cy="396.8" rx="1.7" ry="2.2" fill="#bcd694"/><ellipse cx="427.8" cy="403.1" rx="1.7" ry="2.2" fill="#bcd694"/><ellipse cx="436.2" cy="405.1" rx="1.7" ry="2.2" fill="#bcd694"/><path d="M425.5,424.5 Q432,417.5 438.5,424.5 Z" fill="#a0502a"/><path d="M611,421 L611.5,382.5" stroke="#a86a48" stroke-width="1.4"/><path d="M611,391.8 L606.2,385.8 M611,393.8 L615.8,387.8" stroke="#a86a48" stroke-width="0.9" fill="none"/><path d="M611,399.3 L606.5,393.3 M611,401.3 L615.5,395.3" stroke="#a86a48" stroke-width="0.9" fill="none"/><path d="M611,407.6 L606.8,401.6 M611,409.6 L615.2,403.6" stroke="#a86a48" stroke-width="0.9" fill="none"/><ellipse cx="611.5" cy="381" rx="1.7" ry="2.2" fill="#bcd694"/><ellipse cx="609" cy="383" rx="1.7" ry="2.2" fill="#bcd694"/><ellipse cx="614" cy="382.5" rx="1.7" ry="2.2" fill="#bcd694"/><ellipse cx="606.2" cy="385.3" rx="1.7" ry="2.2" fill="#bcd694"/><ellipse cx="615.8" cy="387.3" rx="1.7" ry="2.2" fill="#bcd694"/><ellipse cx="606.5" cy="392.8" rx="1.7" ry="2.2" fill="#bcd694"/><ellipse cx="615.5" cy="394.8" rx="1.7" ry="2.2" fill="#bcd694"/><ellipse cx="606.8" cy="401.1" rx="1.7" ry="2.2" fill="#bcd694"/><ellipse cx="615.2" cy="403.1" rx="1.7" ry="2.2" fill="#bcd694"/><path d="M604.5,422.5 Q611,415.5 617.5,422.5 Z" fill="#a0502a"/><path d="M653.5,414.7 L654,378" stroke="#a86a48" stroke-width="1.4"/><path d="M653.5,386.9 L648.7,380.9 M653.5,388.9 L658.3,382.9" stroke="#a86a48" stroke-width="0.9" fill="none"/><path d="M653.5,394.1 L649,388.1 M653.5,396.1 L658,390.1" stroke="#a86a48" stroke-width="0.9" fill="none"/><path d="M653.5,402 L649.3,396 M653.5,404 L657.7,398" stroke="#a86a48" stroke-width="0.9" fill="none"/><ellipse cx="654" cy="376.5" rx="1.7" ry="2.2" fill="#bcd694"/><ellipse cx="651.5" cy="378.5" rx="1.7" ry="2.2" fill="#bcd694"/><ellipse cx="656.5" cy="378" rx="1.7" ry="2.2" fill="#bcd694"/><ellipse cx="648.7" cy="380.4" rx="1.7" ry="2.2" fill="#bcd694"/><ellipse cx="658.3" cy="382.4" rx="1.7" ry="2.2" fill="#bcd694"/><ellipse cx="649" cy="387.6" rx="1.7" ry="2.2" fill="#bcd694"/><ellipse cx="658" cy="389.6" rx="1.7" ry="2.2" fill="#bcd694"/><ellipse cx="649.3" cy="395.5" rx="1.7" ry="2.2" fill="#bcd694"/><ellipse cx="657.7" cy="397.5" rx="1.7" ry="2.2" fill="#bcd694"/><path d="M647,416.2 Q653.5,409.2 660,416.2 Z" fill="#a0502a"/><path d="M402,433 L402.5,417.7" stroke="#a86a48" stroke-width="1.4"/><path d="M402,422.4 L397.2,416.4 M402,424.4 L406.8,418.4" stroke="#a86a48" stroke-width="0.9" fill="none"/><path d="M402,425.7 L397.5,419.7 M402,427.7 L406.5,421.7" stroke="#a86a48" stroke-width="0.9" fill="none"/><path d="M402,429.3 L397.8,423.3 M402,431.3 L406.2,425.3" stroke="#a86a48" stroke-width="0.9" fill="none"/><ellipse cx="402.5" cy="416.2" rx="1.7" ry="2.2" fill="#bcd694"/><ellipse cx="400" cy="418.2" rx="1.7" ry="2.2" fill="#bcd694"/><ellipse cx="405" cy="417.7" rx="1.7" ry="2.2" fill="#bcd694"/><ellipse cx="397.2" cy="415.9" rx="1.7" ry="2.2" fill="#bcd694"/><ellipse cx="406.8" cy="417.9" rx="1.7" ry="2.2" fill="#bcd694"/><ellipse cx="397.5" cy="419.2" rx="1.7" ry="2.2" fill="#bcd694"/><ellipse cx="406.5" cy="421.2" rx="1.7" ry="2.2" fill="#bcd694"/><ellipse cx="397.8" cy="422.8" rx="1.7" ry="2.2" fill="#bcd694"/><ellipse cx="406.2" cy="424.8" rx="1.7" ry="2.2" fill="#bcd694"/><path d="M395.5,434.5 Q402,427.5 408.5,434.5 Z" fill="#a0502a"/><path d="M446,472.7 L446.5,436" stroke="#a86a48" stroke-width="1.4"/><path d="M446,444.9 L441.2,438.9 M446,446.9 L450.8,440.9" stroke="#a86a48" stroke-width="0.9" fill="none"/><path d="M446,452.1 L441.5,446.1 M446,454.1 L450.5,448.1" stroke="#a86a48" stroke-width="0.9" fill="none"/><path d="M446,460 L441.8,454 M446,462 L450.2,456" stroke="#a86a48" stroke-width="0.9" fill="none"/><ellipse cx="446.5" cy="434.5" rx="1.7" ry="2.2" fill="#bcd694"/><ellipse cx="444" cy="436.5" rx="1.7" ry="2.2" fill="#bcd694"/><ellipse cx="449" cy="436" rx="1.7" ry="2.2" fill="#bcd694"/><ellipse cx="441.2" cy="438.4" rx="1.7" ry="2.2" fill="#bcd694"/><ellipse cx="450.8" cy="440.4" rx="1.7" ry="2.2" fill="#bcd694"/><ellipse cx="441.5" cy="445.6" rx="1.7" ry="2.2" fill="#bcd694"/><ellipse cx="450.5" cy="447.6" rx="1.7" ry="2.2" fill="#bcd694"/><ellipse cx="441.8" cy="453.5" rx="1.7" ry="2.2" fill="#bcd694"/><ellipse cx="450.2" cy="455.5" rx="1.7" ry="2.2" fill="#bcd694"/><path d="M439.5,474.2 Q446,467.2 452.5,474.2 Z" fill="#a0502a"/><path d="M623,472.7 L623.5,436" stroke="#a86a48" stroke-width="1.4"/><path d="M623,444.9 L618.2,438.9 M623,446.9 L627.8,440.9" stroke="#a86a48" stroke-width="0.9" fill="none"/><path d="M623,452.1 L618.5,446.1 M623,454.1 L627.5,448.1" stroke="#a86a48" stroke-width="0.9" fill="none"/><path d="M623,460 L618.8,454 M623,462 L627.2,456" stroke="#a86a48" stroke-width="0.9" fill="none"/><ellipse cx="623.5" cy="434.5" rx="1.7" ry="2.2" fill="#bcd694"/><ellipse cx="621" cy="436.5" rx="1.7" ry="2.2" fill="#bcd694"/><ellipse cx="626" cy="436" rx="1.7" ry="2.2" fill="#bcd694"/><ellipse cx="618.2" cy="438.4" rx="1.7" ry="2.2" fill="#bcd694"/><ellipse cx="627.8" cy="440.4" rx="1.7" ry="2.2" fill="#bcd694"/><ellipse cx="618.5" cy="445.6" rx="1.7" ry="2.2" fill="#bcd694"/><ellipse cx="627.5" cy="447.6" rx="1.7" ry="2.2" fill="#bcd694"/><ellipse cx="618.8" cy="453.5" rx="1.7" ry="2.2" fill="#bcd694"/><ellipse cx="627.2" cy="455.5" rx="1.7" ry="2.2" fill="#bcd694"/><path d="M616.5,474.2 Q623,467.2 629.5,474.2 Z" fill="#a0502a"/><path d="M467,403 L469.1,402.7 L472.1,403 L475.2,403.8 L478,405 L480.3,406.7 L482.3,408.9 L484.2,411.4 L486,414 L487.8,416.5 L489.5,419.1 L491,422.2 L492,426 L492.6,431.5 L492.8,438.2 L492.6,444.6 L492,449 L490.8,451.1 L489.1,451.8 L487.4,451 L486,449 L485.3,444.9 L485,439 L484.7,432.8 L484,428 L482.8,424.9 L481.4,422.8 L479.7,421.3 L478,420 L476,419.2 L473.9,419 L471.8,418.8 L470,418 L468.6,416.4 L467.4,414.3 L466.6,412.1 L466,410 L465.7,408 L465.6,405.9 L465.9,404.1Z" fill="#6b757a"/><path d="M478,410 L479.3,410 L481.5,410.9 L484,412.3 L486,414 L487.6,415.7 L488.9,417.7 L490.1,420.3 L491,424 L491.6,429.8 L492.1,437.1 L492.2,444.2 L492,449 L491.3,451.2 L490.2,451.9 L489,451.1 L488,449 L487.4,445 L487.1,439.1 L486.7,433 L486,428 L484.9,424.7 L483.6,422.2 L482.2,420.1 L481,418 L479.9,415.6 L478.7,413.1 L477.9,411.1Z" fill="#515a60"/><path d="M483,449 L493,449 Q497,452 495,454 L483,454Z" fill="#4a2c22"/><path d="M470,399 L472.9,396.6 L476.9,394.2 L481.2,391.9 L485,390 L488.4,388.5 L491.6,387.3 L494.5,386.5 L497,386 L499.1,385.9 L500.8,386.2 L502.1,386.9 L503,388 L503.4,389.6 L503.3,391.8 L502.8,394.1 L502,396 L500.7,397.4 L499,398.6 L497,399.8 L495,401 L492.9,402.5 L490.6,404.1 L488.3,405.7 L486,407 L483.8,408.1 L481.5,409 L479.2,409.7 L477,410 L474.5,410 L471.8,409.8 L469.5,409.1 L468,408 L467.4,406.2 L467.5,403.9 L468.3,401.4Z" fill="#4c9b48"/><path d="M497,389 Q503,402 503,418 L507,418 Q507,400 502,387Z" fill="#3f8c3e"/><circle cx="505" cy="419.5" r="2.4" fill="#b9876a"/><path d="M504.5,420 L514.6,446" stroke="#6b4426" stroke-width="1.8"/><ellipse cx="517" cy="448.5" rx="7" ry="3" fill="#9fb4c4"/><path d="M500,384 L510,384 Q511,392 505,394 Q500,392 500,384Z" fill="#3b3330"/><circle cx="506" cy="386" r="3" fill="#b07a5a"/><path d="M495.5,377 L499,376 L500,384 L496,384Z" fill="#4c9b48"/><path d="M498,384 Q498,374 505,374 Q512,374 512,384Z" fill="#3b4147"/><path d="M494,383.5 Q505,381 516,383.5 L515,386 Q505,384.5 495,386Z" fill="#3b4147"/><g stroke="#9a5a2e" stroke-width="1.8" fill="none" stroke-linecap="round"><path d="M528,444 C531,425 535,405 539,389"/><path d="M535,410 L523,395"/><path d="M538,398 L552,382"/><path d="M531,424 L521,416"/><path d="M545,391 L540,385"/></g><ellipse cx="522" cy="393.5" rx="2.6" ry="2" fill="#a9d07a"/><ellipse cx="553" cy="381" rx="2.6" ry="2" fill="#a9d07a"/><ellipse cx="520" cy="415" rx="2.6" ry="2" fill="#a9d07a"/><ellipse cx="539" cy="387" rx="2.6" ry="2" fill="#a9d07a"/><ellipse cx="546" cy="385" rx="2.6" ry="2" fill="#a9d07a"/><ellipse cx="527" cy="397" rx="2.6" ry="2" fill="#a9d07a"/><path d="M546,416 L547.8,414.9 L550.3,414.1 L553.1,413.8 L556,414 L559,414.9 L562.2,416.4 L565.4,418.2 L568,420 L570.1,421.9 L571.9,423.9 L573.2,426 L574,428 L574.3,430.1 L574.1,432.4 L573.4,434.4 L572,436 L569.7,437.1 L566.6,437.8 L563.2,438.1 L560,438 L557,437.6 L554,436.8 L551.2,435.6 L549,434 L547.4,431.9 L546.2,429.2 L545.5,426.5 L545,424 L544.7,421.7 L544.6,419.5 L545,417.5Z" fill="#f0a030"/><path d="M549,432 L551.4,432 L554.8,432.6 L558.6,433.5 L562,434 L565.1,434 L568.2,433.8 L571,433.6 L573,434 L574.2,435.1 L574.7,436.8 L574.6,438.6 L574,440 L572.7,441.1 L570.8,441.9 L568.4,442.6 L566,443 L563.3,443.1 L560.4,442.9 L557.5,442.6 L555,442 L553,441.3 L551.3,440.3 L550,439.2 L549,438 L548.3,436.5 L547.8,434.6 L547.9,433Z" fill="#2f3a44"/><path d="M552,441 L561,441 L562,455 L551,456Z" fill="#7dbb80"/><path d="M563,440 L572,440 L571,453 L563,452Z" fill="#6aa86e"/><path d="M539,414 L550,414 L548,420 L540,420Z" fill="#c49070"/><path d="M541,415 L556,416 L551,420Z" fill="#2f2a2a"/><path d="M534,413 Q536,402 544,402 Q552,403 553,413Z" fill="#d0702a"/><path d="M531,412 L556,412 L555,415 L532,415Z" fill="#c5662a"/><path d="M548,429 L534,428" stroke="#c49070" stroke-width="3.2" stroke-linecap="round"/><circle cx="532" cy="427" r="3" fill="#3a2a22"/><ellipse cx="526" cy="456" rx="7.6" ry="2.6" fill="#8d4a25"/><ellipse cx="521" cy="460" rx="5.5" ry="2.6" fill="#b8a256"/><ellipse cx="532" cy="460.5" rx="5" ry="2.4" fill="#b8a256"/><ellipse cx="538" cy="453.5" rx="4.5" ry="2.6" fill="#b8a256"/><rect x="406" y="475" width="251" height="35" rx="17.5" fill="#a3572a"/><text x="418.5" y="500.5" font-size="18" fill="#fdf4ea" stroke="#fdf4ea" stroke-width="0.65" textLength="228" lengthAdjust="spacingAndGlyphs">RESTAURACIÓN DE ECOSISTEMAS</text></g>
<g><rect x="738" y="221" width="197" height="85" fill="#a8d8e9"/><path d="M738,221 A47,47 0 0 0 691,268 L690,298 Q690,314 706,314 L738,314Z" fill="#6b4a30"/><path d="M778,305 L778.9,299.7 L781.9,295.8 L786.3,292.7 L790.9,290 L795,287 L798.3,283.8 L801.5,280.7 L804.7,277.7 L808.5,274.8 L813,272 L818.5,269.2 L824.9,266.5 L831.7,263.8 L838.5,261.3 L845,259 L851.2,256.9 L857.4,254.9 L863.5,253.1 L869.4,251.5 L875,250 L880.3,248.7 L885.4,247.5 L890.2,246.5 L895.1,245.7 L900,245 L905.2,244.4 L910.5,243.9 L915.7,243.6 L920.6,243.6 L925,244 L928.8,244.8 L932.2,246 L935.1,247.5 L937.7,249.5 L940,252 L942,255.2 L943.6,259.1 L944.8,263.4 L945.6,267.8 L946,272 L945.7,276.1 L944.7,280.4 L943.5,284.6 L942.1,288.6 L941,292 L940,294.7 L938.9,296.9 L938,298.7 L937.3,300.7 L937,303 L937.5,305.7 L938.6,308.5 L939.8,311.4 L940.8,314.6 L941,318 L940.5,321.8 L939.7,326.1 L938.4,330.4 L936.5,334.5 L934,338 L931,341 L927.7,343.6 L923.7,345.8 L918.6,347.6 L912,349 L903.6,349.7 L893.7,349.8 L882.8,349.5 L871.4,349.2 L860,349 L847.9,349.7 L834.8,351.1 L821.6,352.2 L809.7,351.8 L800,349 L792.5,342.6 L786.6,333.3 L782.2,322.8 L779.3,312.8Z" fill="#d68c2c"/><circle cx="849" cy="209.3" r="22.3" fill="#e08e2e"/><path d="M847,258.5 L851,258.5 L852.8,202.2 L851.8,202.2 Z" fill="#6b4a3a"/><path d="M849.4,214.2 L840.5,206.6 M850.3,223.1 L858.8,216.9" stroke="#6b4a3a" stroke-width="2.9" stroke-linecap="round" fill="none"/><path d="M887.5,181.5 C900,181.5 906,200 906,212 C906,225 898,234.5 887.5,234.5 C877,234.5 869,225 869,212 C869,200 875,181.5 887.5,181.5Z" fill="#5f8f4a"/><path d="M885.4,253.8 L889.6,253.8 L890.9,210.9 L889.9,210.9 Z" fill="#6b4a3a"/><path d="M887.9,221.2 L880.3,214.7 M888.6,228.8 L895.9,223.5" stroke="#6b4a3a" stroke-width="2.5" stroke-linecap="round" fill="none"/><g fill="#9db552"><circle cx="916.4" cy="208" r="10"/><circle cx="924.6" cy="212.2" r="10"/><circle cx="926.5" cy="221.7" r="10"/><circle cx="920.6" cy="229" r="10"/><circle cx="911.5" cy="228.7" r="10"/><circle cx="906.2" cy="220.9" r="10"/><circle cx="908.2" cy="212.2" r="10"/><circle cx="916.4" cy="219" r="12.4"/></g><path d="M914.4,265 L918.4,265 L919.9,212.6 L918.9,212.6 Z" fill="#6b4a3a"/><path d="M916.8,223.4 L908.8,216.6 M917.6,231.4 L925.2,225.8" stroke="#6b4a3a" stroke-width="2.6" stroke-linecap="round" fill="none"/><g fill="#9db552"><circle cx="906.6" cy="293.9" r="9.5"/><circle cx="914.4" cy="298" r="9.5"/><circle cx="916.2" cy="306.9" r="9.5"/><circle cx="910.6" cy="313.9" r="9.5"/><circle cx="902" cy="313.6" r="9.5"/><circle cx="896.9" cy="306.2" r="9.5"/><circle cx="898.8" cy="298" r="9.5"/><circle cx="906.6" cy="304.4" r="11.8"/></g><path d="M904.6,343.8 L908.6,343.8 L910,298.3 L909,298.3 Z" fill="#6b4a3a"/><path d="M907,308.6 L899.4,302.1 M907.7,316.2 L915,310.9" stroke="#6b4a3a" stroke-width="2.5" stroke-linecap="round" fill="none"/><path d="M676,320 Q677,302 696,301 L740,318 L790,316 C830,325 862,337 906,353 L906,358 L700,358 Q676,356 676,336Z" fill="#52874a"/><g fill="none" stroke="#8fcc9b" stroke-width="2"><path d="M722.5,292 L721,214"/><path d="M722,235 L713.9,230"/><path d="M722,246 L714.5,241"/><path d="M722,257 L715,252"/><path d="M722,267.5 L716,262.5"/><path d="M722,278 L717,273"/><path d="M722,233 L729.3,228"/><path d="M722,244 L729.8,239"/><path d="M722,255 L730.3,250"/><path d="M722,266 L731,261"/><path d="M722,277 L732,272"/><path d="M721,222 L712,219 M721,218 L729.8,216.8"/></g><g fill="#9bd3a7"><ellipse cx="711.9" cy="230" rx="4.6" ry="4.2"/><ellipse cx="712.5" cy="241" rx="4.6" ry="4.2"/><ellipse cx="713" cy="252" rx="4.6" ry="4.2"/><ellipse cx="714" cy="262.5" rx="4.6" ry="4.2"/><ellipse cx="715" cy="273" rx="4.6" ry="4.2"/><ellipse cx="731.3" cy="228" rx="4.6" ry="4.2"/><ellipse cx="731.8" cy="239" rx="4.6" ry="4.2"/><ellipse cx="732.3" cy="250" rx="4.6" ry="4.2"/><ellipse cx="733" cy="261" rx="4.6" ry="4.2"/><ellipse cx="734" cy="272" rx="4.6" ry="4.2"/><circle cx="712" cy="219" r="4.4"/><circle cx="720" cy="210.5" r="4.4"/><circle cx="729.8" cy="216.8" r="4.4"/></g><g fill="none" stroke="#66a872" stroke-width="2.4" stroke-linecap="round" stroke-linejoin="round"><path d="M771.5,252 L771.5,251.4 L771.4,250.6 L771.3,249.7 L771.3,248.5 L771.2,246.9 L771.2,244.9 L771.2,242.3 L771.2,239 L771.2,235.4 L771.3,231.7 L771.4,228.2 L771.5,225 L771.6,222.2 L771.7,219.6 L771.9,217.2 L772.1,214.8 L772.5,212.4 L773,210 L773.7,207.4 L774.5,204.8 L775.4,202.1 L776.4,199.6 L777.6,197.2 L779,195 L780.6,193 L782.6,191.1 L784.7,189.4 L786.8,187.9 L788.8,186.7 L790.6,185.9 L792.2,185.5 L793.8,185.5 L795.3,185.8 L796.7,186.4 L797.9,187.1 L799,188 L799.9,189.1 L800.8,190.4 L801.5,191.9 L802,193.5 L802.2,195.1 L802.2,196.7 L801.8,198.4 L801.1,200.3 L800.2,202.2 L799.1,203.9 L797.9,205.2 L796.8,206 L795.5,206.1 L794.1,205.6 L792.5,204.7 L791.1,203.6 L789.8,202.4 L789,201.4 L788.6,200.4 L788.7,199.2 L788.9,198 L789.3,196.9 L789.6,195.9 L789.8,195.2"/><path d="M771.2,237 L770.8,235.8 L770.3,234 L769.7,232 L769.1,229.8 L768.5,227.8 L768,226 L767.6,224.5 L767.3,223.2 L766.9,222 L766.6,220.8 L766.2,219.7 L765.7,218.5 L765,217.3 L764.3,216.2 L763.4,215.1 L762.6,213.9 L761.8,212.7 L761,211.5 L760.2,210.1 L759.4,208.5 L758.6,206.9 L757.9,205.4 L757.4,204 L757.2,203 L757.4,202.3 L758,201.7 L758.7,201.4 L759.6,201.2 L760.4,201.2 L761,201.4 L761.5,201.8 L762.1,202.6 L762.6,203.4 L763.1,204.4 L763.3,205.3 L763.4,206 L763.2,206.6 L762.7,207.1 L762,207.5 L761.3,207.9 L760.7,208.2 L760.3,208.4"/><path d="M769.6,240.2 L768.9,238.8 L767.9,236.9 L766.8,234.6 L765.6,232.2 L764.3,229.9 L763,228 L761.8,226.3 L760.5,224.7 L759.2,223.2 L757.9,221.9 L756.4,220.8 L754.9,220 L753.2,219.4 L751.2,219.1 L749.1,218.9 L747.2,219 L745.4,219.4 L744,220 L742.9,221 L742.1,222.4 L741.5,224.1 L741.1,225.9 L740.9,227.7 L740.9,229.4 L741.2,231.1 L741.7,233 L742.4,234.8 L743.3,236.5 L744.4,237.9 L745.5,238.7 L746.9,238.9 L748.6,238.7 L750.4,238.1 L752.2,237.3 L753.8,236.4 L754.9,235.6 L755.5,234.7 L755.8,233.5 L755.8,232.3 L755.7,231.1 L755.6,230.1 L755.6,229.4"/><path d="M771.9,241.8 L773,240.6 L774.5,238.9 L776.3,236.9 L778.1,234.9 L779.9,233.4 L781.3,232.5 L782.5,232.4 L783.7,232.9 L784.7,233.8 L785.6,234.9 L786.3,236 L786.7,237 L786.8,238.1 L786.6,239.3 L786.2,240.6 L785.6,241.8 L785,242.8 L784.4,243.3 L783.7,243.3 L782.8,242.8 L781.9,242.1 L781,241.4 L780.2,240.6 L779.7,240.2"/></g><path d="M665,278.5 L665.4,277.2 L666.8,275.9 L668.8,274.5 L671.3,273.2 L673.8,272 L676,271 L678,270.1 L680,269.2 L682,268.5 L684.1,267.9 L686.3,267.4 L688.5,267 L690.8,266.8 L693.2,266.7 L695.7,266.8 L698.1,266.9 L700.6,267.2 L703,267.5 L705.4,267.9 L707.7,268.3 L710,268.8 L712.4,269.4 L714.7,270.1 L717,271 L719.4,272.1 L721.9,273.3 L724.3,274.7 L726.7,276.1 L729,277.6 L731,279 L732.8,280.4 L734.5,281.9 L736,283.4 L737.4,284.9 L738.7,286.4 L740,288 L741.2,289.6 L742.4,291.3 L743.5,293 L744.4,294.7 L745.3,296.4 L746,298 L746.5,299.5 L746.9,300.9 L747.1,302.3 L747.2,303.7 L747.3,305.3 L747.5,307 L747.7,308.9 L747.9,311.1 L748.2,313.3 L748.3,315.6 L748.5,317.8 L748.5,320 L748.5,322 L748.4,324 L748.2,326 L748,328 L747.7,330 L747.5,332 L747.3,334.4 L747,337.1 L746.7,339.8 L746.4,342.3 L746,344.1 L745.5,345 L744.9,344.8 L744.2,343.8 L743.4,342.2 L742.6,340.2 L741.8,338 L741,336 L740.2,333.9 L739.5,331.5 L738.7,328.9 L737.9,326.4 L737,324 L736,322 L734.9,320.3 L733.7,318.9 L732.4,317.6 L731,316.4 L729.5,315.2 L728,314 L726.4,312.8 L724.9,311.8 L723.2,310.7 L721.4,309.6 L719.3,308.4 L717,307 L714.3,305.3 L711.3,303.5 L708,301.5 L704.6,299.4 L701.3,297.4 L698,295.6 L694.8,293.9 L691.5,292.2 L688.2,290.6 L685,289 L681.9,287.5 L679,286 L676.1,284.6 L673,283.3 L670.1,282.1 L667.6,280.9 L665.8,279.7Z" fill="#7dc06a"/><path d="M670,278 C700,280 730,300 745,340" stroke="#a5d88f" stroke-width="1.3" fill="none"/><path d="M788,285 C796,265 808,248 822,230 C817,250 806,268 796,288Z" fill="#6cae77"/><path d="M770,358 L769.9,354.1 L770.2,348.8 L770.7,342.4 L771.4,335.7 L772.1,329 L772.8,323 L773.4,317.4 L774,311.7 L774.7,306.2 L775.4,300.9 L776.2,296.1 L777,292 L777.8,288.6 L778.5,285.8 L779.3,283.5 L780.3,281.5 L781.5,279.7 L783,278 L785,276.3 L787.3,274.9 L789.8,273.6 L792.5,272.5 L795.2,271.6 L797.7,271 L800.1,270.6 L802.4,270.3 L804.7,270.3 L807,270.6 L809.5,271.1 L812,272 L815,273.5 L818.6,275.7 L822.2,278.1 L825.5,280.5 L827.9,282.5 L829,283.6 L828.6,283.7 L826.9,283.1 L824.4,282 L821.4,280.8 L818.5,279.8 L816,279.4 L813.8,279.5 L811.4,279.7 L809.1,280.2 L806.8,280.9 L804.8,281.8 L803,283 L801.5,284.5 L800.3,286.2 L799.2,288.2 L798.3,290.3 L797.6,292.6 L797,295 L796.7,297.6 L796.7,300.3 L796.9,303.2 L797.1,306.2 L797.2,309.2 L797,312 L796.6,314.7 L796.1,317.4 L795.6,320.1 L794.9,322.8 L794,325.4 L793,328 L791.8,330.6 L790.3,333.1 L788.7,335.6 L787,338 L785.4,340.5 L784,343 L782.7,345.7 L781.5,348.6 L780.4,351.4 L779.3,354.1 L778.1,356.4 L777,358 L775.7,359.3 L774.3,360.4 L772.9,361.1 L771.6,361.1 L770.6,360.2Z" fill="#6cae77"/><path d="M824,281 C800,278 782,300 776,350" stroke="#9fd3a6" stroke-width="1.2" fill="none"/><path d="M781,358 L781.4,356 L782,353.1 L782.7,349.8 L783.4,346.2 L784.2,342.9 L785,340 L785.7,337.6 L786.5,335.3 L787.2,333.2 L788.1,331.3 L789,329.6 L790,328 L791.2,326.5 L792.5,325.1 L793.9,323.9 L795.4,322.9 L796.7,322.2 L798,322 L799.2,322.3 L800.4,323 L801.6,324.1 L802.7,325.4 L803.5,326.7 L804,328 L804.2,329.3 L804.1,330.8 L803.8,332.4 L803.3,333.9 L802.7,335.1 L802,336 L801.1,336.5 L799.8,336.8 L798.4,336.9 L797.1,336.7 L795.9,336.4 L795,336 L794.5,335.3 L794.2,334.2 L794.1,333 L794,331.8 L794,330.7 L794,330" fill="none" stroke="#66a872" stroke-width="2.3" stroke-linecap="round"/><g stroke="#fff" stroke-width="1.6" fill="none"><path d="M753,350.6 C758,320 766,285 772.3,249"/><path d="M769.8,262.3 L761.4,256.3"/><path d="M767.7,273 L759,267"/><path d="M765.7,284 L756.6,278"/><path d="M763.6,295 L754.2,289"/><path d="M761.7,304.6 L753,298.6"/><path d="M759.7,315.5 L750.5,309.5"/><path d="M757.9,325 L748,319"/><path d="M755.8,336 L745.7,330"/><path d="M771.2,255 L772.3,249"/><path d="M769.1,266 L778.4,260"/><path d="M767.2,275.6 L777,269.6"/><path d="M765.2,286.4 L774.7,280.4"/><path d="M763.1,297.3 L772.3,291.3"/><path d="M761.1,308.2 L770,302.2"/><path d="M759,319 L767.5,313"/><path d="M756.9,330 L765,324"/><path d="M755.1,339.6 L764,333.6"/></g><g fill="#fff"><ellipse cx="761.4" cy="256.3" rx="5" ry="4.5"/><ellipse cx="759" cy="267" rx="5" ry="4.5"/><ellipse cx="756.6" cy="278" rx="5" ry="4.5"/><ellipse cx="754.2" cy="289" rx="5" ry="4.5"/><ellipse cx="753" cy="298.6" rx="5" ry="4.5"/><ellipse cx="750.5" cy="309.5" rx="5" ry="4.5"/><ellipse cx="748" cy="319" rx="5" ry="4.5"/><ellipse cx="745.7" cy="330" rx="5" ry="4.5"/><ellipse cx="772.3" cy="249" rx="5" ry="4.5"/><ellipse cx="778.4" cy="260" rx="5" ry="4.5"/><ellipse cx="777" cy="269.6" rx="5" ry="4.5"/><ellipse cx="774.7" cy="280.4" rx="5" ry="4.5"/><ellipse cx="772.3" cy="291.3" rx="5" ry="4.5"/><ellipse cx="770" cy="302.2" rx="5" ry="4.5"/><ellipse cx="767.5" cy="313" rx="5" ry="4.5"/><ellipse cx="765" cy="324" rx="5" ry="4.5"/><ellipse cx="764" cy="333.6" rx="5" ry="4.5"/><path d="M752,351 C756,344 762,341 768,341 C764,346 758,350 752,351Z"/></g><g stroke="#3f9a45" stroke-width="1.6" fill="none"><path d="M828,349 L818,306 M830,349 L845,286 M834,349 L858,276 M838,349 L868,290 M826,349 L808,318 M836,349 L862,311"/></g><path d="M0,0 C4,-3.2 10,-3 14,0 C10,3 4,3.2 0,0Z" fill="#fff" transform="translate(845,284.2) rotate(-158)"/><path d="M0,0 C4,-3.2 10,-3 14,0 C10,3 4,3.2 0,0Z" fill="#fff" transform="translate(845,284.2) rotate(-118)"/><path d="M0,0 C4,-3.2 10,-3 14,0 C10,3 4,3.2 0,0Z" fill="#fff" transform="translate(845,284.2) rotate(-62)"/><path d="M0,0 C4,-3.2 10,-3 14,0 C10,3 4,3.2 0,0Z" fill="#fff" transform="translate(845,284.2) rotate(-22)"/><path d="M0,0 C4,-3.2 10,-3 14,0 C10,3 4,3.2 0,0Z" fill="#fff" transform="translate(858.4,274.7) rotate(-158)"/><path d="M0,0 C4,-3.2 10,-3 14,0 C10,3 4,3.2 0,0Z" fill="#fff" transform="translate(858.4,274.7) rotate(-118)"/><path d="M0,0 C4,-3.2 10,-3 14,0 C10,3 4,3.2 0,0Z" fill="#fff" transform="translate(858.4,274.7) rotate(-62)"/><path d="M0,0 C4,-3.2 10,-3 14,0 C10,3 4,3.2 0,0Z" fill="#fff" transform="translate(858.4,274.7) rotate(-22)"/><path d="M0,0 C4,-3.2 10,-3 14,0 C10,3 4,3.2 0,0Z" fill="#fff" transform="translate(881.2,275.6) rotate(-158)"/><path d="M0,0 C4,-3.2 10,-3 14,0 C10,3 4,3.2 0,0Z" fill="#fff" transform="translate(881.2,275.6) rotate(-118)"/><path d="M0,0 C4,-3.2 10,-3 14,0 C10,3 4,3.2 0,0Z" fill="#fff" transform="translate(881.2,275.6) rotate(-62)"/><path d="M0,0 C4,-3.2 10,-3 14,0 C10,3 4,3.2 0,0Z" fill="#fff" transform="translate(881.2,275.6) rotate(-22)"/><path d="M0,0 C4,-3.2 10,-3 14,0 C10,3 4,3.2 0,0Z" fill="#fff" transform="translate(867.9,289) rotate(-158)"/><path d="M0,0 C4,-3.2 10,-3 14,0 C10,3 4,3.2 0,0Z" fill="#fff" transform="translate(867.9,289) rotate(-118)"/><path d="M0,0 C4,-3.2 10,-3 14,0 C10,3 4,3.2 0,0Z" fill="#fff" transform="translate(867.9,289) rotate(-62)"/><path d="M0,0 C4,-3.2 10,-3 14,0 C10,3 4,3.2 0,0Z" fill="#fff" transform="translate(867.9,289) rotate(-22)"/><path d="M0,0 C4,-3.2 10,-3 14,0 C10,3 4,3.2 0,0Z" fill="#fff" transform="translate(879.3,291.8) rotate(-158)"/><path d="M0,0 C4,-3.2 10,-3 14,0 C10,3 4,3.2 0,0Z" fill="#fff" transform="translate(879.3,291.8) rotate(-118)"/><path d="M0,0 C4,-3.2 10,-3 14,0 C10,3 4,3.2 0,0Z" fill="#fff" transform="translate(879.3,291.8) rotate(-62)"/><path d="M0,0 C4,-3.2 10,-3 14,0 C10,3 4,3.2 0,0Z" fill="#fff" transform="translate(879.3,291.8) rotate(-22)"/><path d="M0,0 C4,-3.2 10,-3 14,0 C10,3 4,3.2 0,0Z" fill="#fff" transform="translate(818.5,305) rotate(-158)"/><path d="M0,0 C4,-3.2 10,-3 14,0 C10,3 4,3.2 0,0Z" fill="#fff" transform="translate(818.5,305) rotate(-118)"/><path d="M0,0 C4,-3.2 10,-3 14,0 C10,3 4,3.2 0,0Z" fill="#fff" transform="translate(818.5,305) rotate(-62)"/><path d="M0,0 C4,-3.2 10,-3 14,0 C10,3 4,3.2 0,0Z" fill="#fff" transform="translate(818.5,305) rotate(-22)"/><path d="M0,0 C4,-3.2 10,-3 14,0 C10,3 4,3.2 0,0Z" fill="#fff" transform="translate(807,316.5) rotate(-158)"/><path d="M0,0 C4,-3.2 10,-3 14,0 C10,3 4,3.2 0,0Z" fill="#fff" transform="translate(807,316.5) rotate(-118)"/><path d="M0,0 C4,-3.2 10,-3 14,0 C10,3 4,3.2 0,0Z" fill="#fff" transform="translate(807,316.5) rotate(-62)"/><path d="M0,0 C4,-3.2 10,-3 14,0 C10,3 4,3.2 0,0Z" fill="#fff" transform="translate(807,316.5) rotate(-22)"/><path d="M0,0 C4,-3.2 10,-3 14,0 C10,3 4,3.2 0,0Z" fill="#fff" transform="translate(835.6,314.6) rotate(-158)"/><path d="M0,0 C4,-3.2 10,-3 14,0 C10,3 4,3.2 0,0Z" fill="#fff" transform="translate(835.6,314.6) rotate(-118)"/><path d="M0,0 C4,-3.2 10,-3 14,0 C10,3 4,3.2 0,0Z" fill="#fff" transform="translate(835.6,314.6) rotate(-62)"/><path d="M0,0 C4,-3.2 10,-3 14,0 C10,3 4,3.2 0,0Z" fill="#fff" transform="translate(835.6,314.6) rotate(-22)"/><path d="M0,0 C4,-3.2 10,-3 14,0 C10,3 4,3.2 0,0Z" fill="#fff" transform="translate(861.2,310.8) rotate(-158)"/><path d="M0,0 C4,-3.2 10,-3 14,0 C10,3 4,3.2 0,0Z" fill="#fff" transform="translate(861.2,310.8) rotate(-118)"/><path d="M0,0 C4,-3.2 10,-3 14,0 C10,3 4,3.2 0,0Z" fill="#fff" transform="translate(861.2,310.8) rotate(-62)"/><path d="M0,0 C4,-3.2 10,-3 14,0 C10,3 4,3.2 0,0Z" fill="#fff" transform="translate(861.2,310.8) rotate(-22)"/><path d="M0,0 C4,-3.2 10,-3 14,0 C10,3 4,3.2 0,0Z" fill="#fff" transform="translate(872.6,305) rotate(-158)"/><path d="M0,0 C4,-3.2 10,-3 14,0 C10,3 4,3.2 0,0Z" fill="#fff" transform="translate(872.6,305) rotate(-118)"/><path d="M0,0 C4,-3.2 10,-3 14,0 C10,3 4,3.2 0,0Z" fill="#fff" transform="translate(872.6,305) rotate(-62)"/><path d="M0,0 C4,-3.2 10,-3 14,0 C10,3 4,3.2 0,0Z" fill="#fff" transform="translate(872.6,305) rotate(-22)"/><g fill="#52874a"><rect x="713" y="355.5" width="228" height="34" rx="17"/><rect x="746" y="380" width="162" height="35" rx="15"/></g><g fill="#f4f7ee" stroke="#f4f7ee" stroke-width="0.6"><text x="761" y="380.8" font-size="16.8" textLength="131" lengthAdjust="spacingAndGlyphs">CONSERVACIÓN DE</text><text x="761" y="401" font-size="16.8" textLength="131" lengthAdjust="spacingAndGlyphs">LA BIODIVERSIDAD</text></g></g>
</svg>
</body></html>
